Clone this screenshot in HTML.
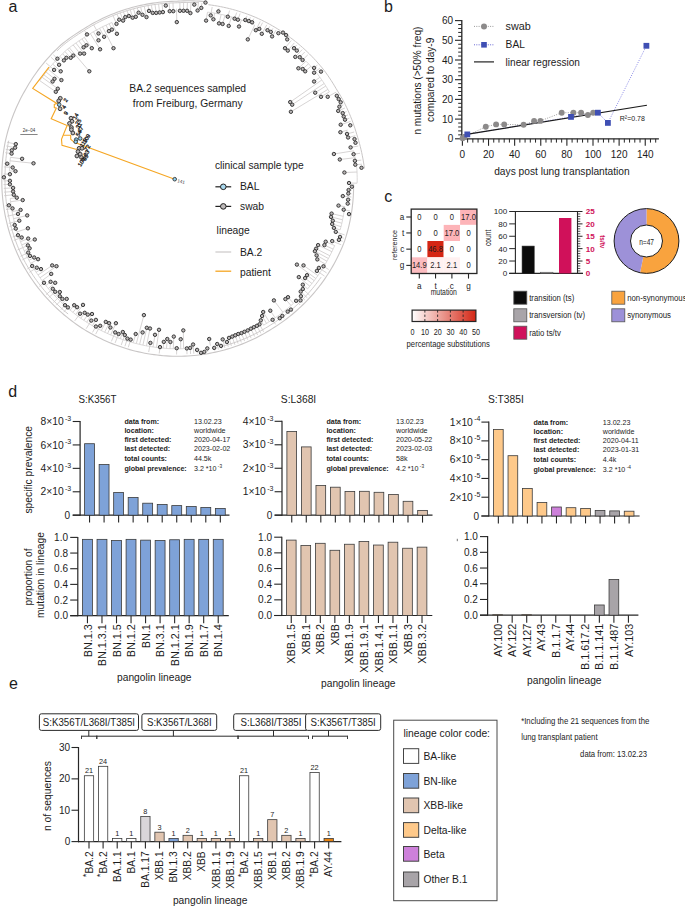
<!DOCTYPE html>
<html><head><meta charset="utf-8"><style>
html,body{margin:0;padding:0;background:#fff;}
svg{display:block;}
text{font-family:"Liberation Sans",sans-serif;}
</style></head><body>
<svg width="685" height="907" viewBox="0 0 685 907" fill="#1c1c1c">
<rect width="685" height="907" fill="#fff"/>
<text x="8.60" y="11.70" font-size="16">a</text>
<text x="384.10" y="11.60" font-size="16">b</text>
<text x="384.20" y="202.00" font-size="16">c</text>
<text x="8.20" y="397.20" font-size="16">d</text>
<text x="8.90" y="689.00" font-size="16">e</text>
<path d="M353.60,184.30 L353.60,187.32 L353.55,190.34 L353.44,193.36 L353.28,196.38 L353.07,199.39 L352.81,202.41 L352.49,205.42 L352.12,208.43 L351.70,211.44 L351.22,214.44 L350.69,217.43 L350.11,220.42 L349.48,223.39 L348.80,226.36 L348.06,229.32 L347.27,232.26 L346.43,235.20 L345.54,238.12 L344.59,241.02 L343.50,243.88 L342.35,246.70 L341.15,249.51 L339.90,252.30 L338.60,255.07 L337.25,257.81 L335.86,260.53 L334.42,263.22 L332.93,265.89 L331.39,268.53 L329.81,271.15 L328.19,273.74 L326.52,276.30 L324.80,278.83 L323.05,281.33 L321.24,283.80 L319.40,286.23 L317.51,288.64 L315.58,291.01 L313.62,293.35 L311.61,295.65 L309.56,297.92 L307.47,300.15 L305.34,302.35 L303.17,304.51 L300.97,306.63 L298.73,308.71 L296.46,310.76 L294.14,312.76 L291.80,314.72 L289.42,316.64 L287.01,318.52 L284.56,320.36 L282.09,322.16 L279.58,323.91 L277.04,325.62 L274.47,327.28 L271.88,328.90 L269.28,330.52 L266.65,332.09 L264.00,333.62 L261.32,335.09 L258.61,336.53 L255.87,337.91 L253.11,339.25 L250.33,340.54 L247.53,341.79 L244.70,342.98 L241.85,344.12 L238.98,345.22 L236.09,346.27 L233.18,347.26 L230.26,348.21 L227.32,349.10 L224.36,349.94 L221.38,350.74 L218.40,351.48 L215.40,352.16 L212.38,352.80 L209.36,353.38 L206.32,353.92 L203.28,354.39 L200.22,354.82 L197.16,355.19 L194.09,355.51 L191.01,355.78 L187.93,355.99 L184.85,356.15 L181.76,356.25 L178.67,356.30 L175.58,356.29 L172.49,356.22 L169.40,356.09 L166.31,355.91 L163.22,355.68 L160.14,355.40 L157.06,355.06 L153.99,354.67 L150.93,354.22 L147.87,353.72 L144.82,353.17 L141.78,352.56 L138.75,351.90 L135.73,351.19 L132.73,350.43 L129.73,349.61 L126.76,348.74 L123.79,347.82 L120.84,346.85 L117.91,345.83 L115.00,344.75 L112.10,343.63 L109.22,342.45 L106.37,341.22 L103.53,339.95 L100.72,338.62 L97.93,337.25 L95.16,335.82 L92.42,334.35 L89.71,332.83 L87.02,331.25 L84.37,329.62 L81.75,327.94 L79.15,326.22 L76.59,324.45 L74.05,322.64 L71.55,320.78 L69.08,318.88 L66.64,316.94 L64.24,314.96 L61.87,312.93 L59.54,310.86 L57.24,308.75 L54.98,306.61 L52.76,304.42 L50.57,302.19 L48.43,299.93 L46.32,297.63 L44.25,295.29 L42.23,292.92 L40.24,290.51 L38.30,288.06 L36.40,285.59 L34.54,283.08 L32.73,280.53 L30.96,277.96 L29.24,275.36 L27.56,272.72 L25.93,270.06 L24.34,267.36 L22.80,264.64 L21.31,261.90 L19.86,259.13 L18.52,256.30 L17.23,253.46 L15.98,250.59 L14.79,247.70 L13.65,244.80 L12.56,241.87 L11.52,238.93 L10.53,235.97 L9.59,232.99 L8.71,230.00 L7.87,226.99 L7.09,223.97 L6.37,220.94 L5.69,217.89 L5.07,214.84 L4.51,211.77 L3.99,208.70 L3.53,205.62 L3.13,202.53 L2.78,199.44 L2.48,196.34 L2.23,193.23 L2.04,190.13 L1.91,187.02 L1.82,183.91 L1.80,180.80 L1.82,177.69 L1.86,174.58 L1.92,171.47 L2.03,168.36 L2.20,165.25 L2.42,162.15 L2.70,159.05 L3.03,155.95 L3.41,152.86 L3.85,149.78 L4.34,146.70 L4.88,143.63 L5.48,140.58 L6.18,137.54 L6.94,134.52 L7.76,131.51 L8.63,128.52 L9.55,125.54 L10.52,122.58 L11.54,119.64 L12.62,116.71 L13.74,113.81 L14.91,110.93 L16.14,108.06 L17.41,105.22 L18.73,102.40 L20.11,99.61 L21.52,96.84 L22.99,94.10 L24.51,91.38 L26.05,88.68 L27.61,85.98 L29.21,83.32 L30.87,80.68 L32.57,78.07 L34.31,75.50 L36.10,72.95 L37.94,70.43 L39.82,67.95 L41.74,65.49 L43.70,63.07 L45.71,60.69 L47.76,58.34 L49.85,56.02 L51.98,53.74 L54.15,51.50 L56.36,49.30 L58.61,47.13 L60.89,45.01 L63.27,42.99 L65.74,41.08 L68.24,39.21 L70.78,37.39 L73.34,35.62 L75.93,33.89 L78.54,32.21 L81.16,30.53 L83.76,28.85 L86.40,27.21 L89.06,25.62 L91.75,24.07 L94.47,22.57 L97.21,21.12 L99.98,19.72 L102.77,18.37 L105.58,17.06 L108.42,15.81 L111.27,14.60 L114.15,13.45 L117.04,12.34 L119.96,11.29 L122.89,10.28 L125.83,9.33 L128.80,8.43 L131.77,7.58 L134.77,6.78 L137.77,6.04 L140.79,5.35 L143.82,4.71 L146.85,4.12 L149.90,3.59 L152.96,3.11 L156.02,2.68 L159.09,2.31 L162.16,1.99 L165.24,1.72 L168.33,1.51 L171.41,1.35 L174.50,1.24 L177.59,1.16 L180.68,0.99 L183.78,0.88 L186.88,0.82 L189.98,0.81 L193.08,0.86 L196.19,0.96 L199.29,1.12 L202.40,1.33 L205.50,1.60" fill="none" stroke="#c9c6c6" stroke-width="1.1"/>
<path d="M68.14,314.04 L65.79,312.08 L63.47,310.08 L61.19,308.04 L58.94,305.96 L56.73,303.84 L54.55,301.69 L52.42,299.49 L50.32,297.26 L48.26,295.00 L46.24,292.69 L44.26,290.35 L42.32,287.98 L40.42,285.57 L38.56,283.13 L36.75,280.66 L34.98,278.16 L33.25,275.63 L31.56,273.06 L29.93,270.47 L28.33,267.85 L26.78,265.20 L25.28,262.52 L23.83,259.82 L22.43,257.09 L21.12,254.31 L19.86,251.51 L18.65,248.69 L17.49,245.85 L16.38,242.99 L15.32,240.11 L14.31,237.22 L13.35,234.31 L12.45,231.38 L11.59,228.44 L10.78,225.48 L10.03,222.51 L9.33,219.53 L8.68,216.54 L8.08,213.54 L7.54,210.53 L7.05,207.51 L6.61,204.48 L6.22,201.45 L5.89,198.41 L5.61,195.36 L5.38,192.32 L5.20,189.27 L5.08,186.21 L5.01,183.16 L5.00,180.11 L5.04,177.05 L5.07,174.00 L5.14,170.95 L5.26,167.89 L5.43,164.84 L5.66,161.80 L5.94,158.75 L6.28,155.71 L6.66,152.68 L7.10,149.65 L7.60,146.63 L8.14,143.62 L8.74,140.62" fill="none" stroke="#c9c6c6" stroke-width="0.9"/>
<path d="M57.05,50.86 L59.23,48.74 L61.45,46.66 L63.74,44.66 L66.14,42.79 L68.57,40.96 L71.03,39.17 L73.52,37.43 L76.03,35.73 L78.57,34.08 L81.13,32.47 L83.66,30.81 L86.22,29.20 L88.81,27.63 L91.42,26.10 L94.06,24.62 L96.72,23.19 L99.40,21.80 L102.11,20.46 L104.84,19.16 L107.59,17.92 L110.36,16.71 L113.15,15.56 L115.97,14.46 L118.79,13.40 L121.64,12.39 L124.50,11.44 L127.38,10.53 L130.27,9.67 L133.18,8.86 L136.10,8.10 L139.03,7.39 L141.97,6.73 L144.93,6.12 L147.89,5.56 L150.86,5.05 L153.84,4.60 L156.83,4.19 L159.82,3.84 L162.82,3.53 L165.82,3.28 L168.82,3.08 L171.83,2.93 L174.84,2.84 L177.85,2.74 L180.86,2.58 L183.88,2.47 L186.90,2.41 L189.92,2.41 L192.95,2.46 L195.97,2.55 L199.00,2.71" fill="none" stroke="#c9c6c6" stroke-width="0.9"/>
<path d="M321.10,277.15 L319.41,279.53 L317.68,281.89 L315.90,284.22 L314.09,286.51 L312.24,288.78 L310.35,291.01 L308.42,293.21 L306.46,295.38 L304.46,297.51 L302.42,299.61 L300.35,301.68 L298.24,303.71 L296.10,305.70 L293.92,307.66 L291.71,309.57 L289.47,311.46 L287.20,313.30 L284.89,315.10 L282.56,316.87 L280.20,318.59 L277.80,320.27 L275.38,321.92 L272.93,323.52 L270.45,325.08 L267.97,326.63 L265.46,328.15 L262.93,329.62 L260.37,331.05 L257.79,332.44 L255.19,333.79 L252.56,335.09 L249.90,336.34 L247.23,337.55 L244.53,338.72 L241.82,339.83 L239.08,340.91 L236.33,341.93 L233.55,342.91 L230.77,343.85 L227.96,344.73 L225.14,345.57 L222.30,346.36" fill="none" stroke="#c9c6c6" stroke-width="0.9"/>
<path d="M208.40,4.70 L211.44,5.10 L214.47,5.56 L217.50,6.07 L220.52,6.63 L223.53,7.25 L226.53,7.91 L229.53,8.63 L232.51,9.41 L235.48,10.23 L238.43,11.11 L241.37,12.04 L244.30,13.02 L247.21,14.05 L250.11,15.14 L252.98,16.27 L255.84,17.47 L258.66,18.74 L261.46,20.06 L264.24,21.43 L266.99,22.85 L269.72,24.32 L272.43,25.83 L275.11,27.40 L277.76,29.01 L280.38,30.66 L282.98,32.37 L285.55,34.11 L288.09,35.91 L290.60,37.75 L293.07,39.63 L295.52,41.55 L297.93,43.52 L300.30,45.53 L302.65,47.58 L304.96,49.68 L307.23,51.81 L309.46,53.99 L311.66,56.20 L313.82,58.45 L315.94,60.74 L318.03,63.07 L320.07,65.44 L322.07,67.84 L324.03,70.27 L325.90,72.78 L327.71,75.33 L329.47,77.91 L331.19,80.53 L332.86,83.17 L334.49,85.84 L336.06,88.54 L337.71,91.20 L339.35,93.86 L340.95,96.56 L342.51,99.29 L343.97,102.06 L345.38,104.87 L346.74,107.71 L348.05,110.57 L349.31,113.45 L350.52,116.36 L351.68,119.29 L352.79,122.24 L353.85,125.21 L354.86,128.20 L355.82,131.21 L356.72,134.24 L357.65,137.26 L358.57,140.30 L359.43,143.36 L360.24,146.43 L360.99,149.53 L361.70,152.64 L362.35,155.76 L362.94,158.90 L363.48,162.05 L363.97,165.22 L364.40,168.40" fill="none" stroke="#c9c6c6" stroke-width="1.0"/>
<path d="M87.0,34.4L84.5,30.5 M86.5,45.3L82.0,38.9 M83.6,47.3L78.9,40.9 M80.1,53.6L73.1,44.9 M84.1,53.6L75.9,43.0 M73.3,55.6L67.6,49.1 M70.7,57.8L64.9,51.5 M66.4,57.8L62.6,53.7 M63.9,60.4L59.9,56.3 M57.4,58.7L53.4,54.8 M59.1,64.8L51.1,57.3 M54.1,69.9L46.1,63.0 M60.7,71.3L52.7,64.1 M54.5,78.8L46.1,72.1 M52.6,81.5L43.9,74.9 M61.4,80.1L48.3,69.3 M57.8,88.7L42.2,77.3 M89.3,71.3L69.3,47.8 M165.8,5.6L165.6,3.5 M169.7,11.2L169.2,3.3 M173.3,11.2L173.0,3.1 M162.9,12.1L162.0,3.8 M159.6,12.5L158.6,4.2 M156.2,12.9L155.0,4.6 M152.7,12.9L151.4,5.2 M149.0,10.9L148.0,5.7 M146.5,17.1L144.3,6.5 M142.5,14.8L140.7,7.2 M138.6,12.7L137.4,8.0 M135.8,16.8L133.6,8.9 M132.6,17.7L130.3,9.9 M128.8,16.0L127.1,10.8 M125.3,17.1L123.5,12.0 M123.1,20.6L120.4,13.1 M119.2,19.7L117.1,14.2 M116.5,23.9L113.1,15.8 M111.9,29.6L109.2,23.7 M108.9,31.1L106.0,25.1 M116.9,33.8L111.9,22.5 M104.1,36.8L99.6,28.4 M98.5,33.5L93.7,25.0 M98.5,40.3L93.4,31.7 M91.8,48.2L84.4,37.4 M100.1,49.3L90.3,33.6 M113.5,48.2L102.5,26.8 M179.9,10.8L179.9,2.8 M183.5,10.8L183.6,2.7 M187.1,10.8L187.4,2.6 M190.4,13.1L191.0,2.6 M194.3,4.6L194.5,2.7 M197.6,10.5L198.4,2.9 M201.3,7.9L201.9,3.1 M205.5,2.6L206.1,-1.9 M176.8,22.1L176.5,8.7 M210.7,15.4L212.2,7.0 M213.4,19.3L214.7,13.2 M206.1,20.6L207.5,12.1 M218.4,11.4L219.1,8.2 M219.0,23.4L221.2,14.4 M222.6,24.0L225.0,15.2 M227.8,16.7L229.6,10.5 M228.7,25.9L231.5,16.9 M234.6,18.7L236.7,12.5 M237.9,19.7L240.1,13.5 M239.0,26.5L241.5,20.0 M245.3,20.0L247.0,15.9 M248.8,21.0L250.4,17.2 M252.1,22.3L253.8,18.6 M255.8,30.2L260.2,21.5 M247.8,39.4L254.7,25.2 M259.3,28.9L262.6,22.6 M261.8,33.8L266.8,24.8 M267.5,30.2L269.7,26.4 M270.8,31.9L273.0,28.3 M272.1,36.4L276.1,30.1 M278.4,33.2L279.2,32.0 M287.2,39.4L288.1,38.2 M285.0,48.2L291.2,40.5 M287.8,50.6L294.3,42.9 M294.0,48.2L296.8,44.9 M296.8,50.6L299.7,47.4 M295.3,56.9L302.2,49.6 M299.7,57.2L304.8,52.0 M302.6,60.0L307.8,54.9 M298.4,68.3L306.0,61.2 M302.7,69.0L308.5,63.8 M305.2,71.3L310.9,66.4 M314.1,67.9L317.4,65.1 M314.1,72.7L319.9,68.1 M321.0,71.6L322.1,70.8 M314.1,81.5L319.9,77.3 M315.2,92.7L325.8,86.0 M321.0,96.8L329.4,91.9 M327.7,96.8L336.2,92.1 M290.2,102.1L321.8,80.0 M292.2,104.7L324.2,83.5 M290.9,111.8L327.9,89.4 M336.8,95.8L338.0,95.1 M338.7,99.1L340.0,98.5 M340.7,102.3L341.8,101.8 M339.4,106.7L343.4,104.9 M338.2,110.9L344.9,108.0 M342.7,113.1L346.5,111.6 M343.7,116.5L348.0,114.9 M345.0,119.7L349.3,118.2 M340.7,124.7L350.6,121.4 M350.3,125.3L351.8,124.8 M340.4,132.2L347.6,130.1 M347.0,133.9L354.2,132.0 M348.1,137.5L355.3,135.7 M354.5,139.1L356.2,138.7 M355.5,142.8L357.3,142.4 M350.6,147.4L358.3,146.0 M333.9,154.0L353.6,150.8 M353.6,154.2L360.0,153.3 M339.8,159.5L355.1,157.7 M354.9,160.8L361.3,160.1 M355.3,164.7L362.0,164.2 M361.5,167.8L362.5,167.7 M344.4,172.5L357.1,172.0 M349.0,183.0L357.1,183.2 M348.6,190.0L351.8,190.2 M348.3,193.5L351.6,193.8 M342.8,196.1L351.4,197.0 M348.1,199.7L351.2,200.1 M347.7,203.6L350.8,204.1 M338.5,205.6L344.8,206.7 M343.7,209.7L350.0,210.9 M331.6,213.6L343.3,216.3 M331.0,216.9L342.6,219.8 M332.8,220.7L341.8,223.2 M332.2,224.0L341.0,226.6 M333.9,227.9L340.1,229.9 M335.8,231.9L344.6,234.9 M340.0,236.9L343.6,238.2 M338.9,239.9L342.6,241.3 M332.2,241.1L341.2,244.8 M325.7,241.7L334.7,245.6 M324.4,245.1L333.1,249.1 M318.1,245.1L331.9,251.7 M316.1,248.7L329.9,255.8 M314.9,251.2L328.4,258.5 M316.6,255.4L326.9,261.2 M317.3,259.4L325.3,264.1 M296.9,264.6L315.8,278.5 M303.5,265.4L317.9,275.6 M323.5,266.3L328.7,269.5 M318.9,267.9L326.6,272.9 M316.9,270.9L324.5,276.1 M298.8,277.1L309.8,286.2 M307.0,275.2L314.2,280.7 M305.1,278.1L312.0,283.6 M302.8,284.7L307.6,288.9 M302.8,289.0L309.6,295.2 M300.7,291.6L307.3,297.8 M300.9,296.2L305.0,300.2 M300.5,300.4L302.6,302.5 M296.1,300.8L300.1,305.0 M288.0,297.2L293.5,303.3 M285.4,299.1L291.0,305.5 M273.9,300.4L282.9,312.2 M290.9,309.6L292.6,311.7 M287.7,311.6L289.7,314.1 M270.3,310.7L275.2,317.8 M282.3,315.9L284.2,318.4 M279.7,318.2L281.3,320.5 M272.6,319.8L275.6,324.4 M263.2,312.0L269.2,321.7 M262.1,316.0L266.5,323.4 M260.8,320.3L263.6,325.2 M259.5,324.3L263.6,331.8 M256.9,325.8L260.8,333.3 M253.8,327.2L257.6,335.0 M250.9,328.7L254.6,336.5 M247.7,330.4L251.1,338.2 M244.4,331.8L247.7,339.7 M241.4,333.1L244.6,341.1 M238.2,334.0L241.3,342.4 M235.2,335.3L238.1,343.6 M232.2,336.6L234.9,344.8 M229.0,337.9L231.4,345.9 M226.9,342.0L228.3,346.9 M222.7,339.4L224.9,347.9 M221.0,345.9L221.7,348.8 M217.2,344.0L218.4,349.6 M214.2,347.9L214.7,350.5 M209.2,339.0L210.4,345.6 M207.3,348.4L207.8,351.8 M204.3,351.9L204.4,352.4 M197.1,349.9L197.4,353.3 M193.1,344.5L193.8,353.7 M190.2,347.9L190.6,354.0 M186.8,348.4L187.0,354.2 M183.3,330.4L183.6,348.7 M180.7,339.2L180.7,348.8 M92.0,314.0L86.7,322.2 M91.3,320.6L86.2,328.7 M95.9,319.9L92.4,325.7 M95.9,326.5L92.5,332.4 M100.2,325.8L95.7,334.1 M105.8,321.9L101.3,330.5 M109.1,323.2L104.7,332.2 M110.4,327.5L107.6,333.5 M115.9,323.2L110.7,334.9 M115.2,332.4L111.4,341.4 M118.6,334.0L115.1,342.9 M122.8,332.0L120.3,338.7 M124.8,335.0L121.2,345.1 M127.4,338.6L124.9,346.3 M130.7,339.6L128.3,347.3 M135.7,334.0L133.2,342.8 M143.9,315.1L136.3,343.6 M142.6,332.4L139.6,344.4 M146.8,327.8L142.9,345.1 M150.0,328.5L146.5,345.8 M155.0,334.8L153.0,347.0 M159.0,329.8L156.5,347.4 M150.4,342.9L148.7,352.0 M160.0,347.1L159.2,353.5 M163.8,341.9L163.2,348.2 M167.3,339.0L166.5,348.4 M170.4,342.0L170.0,348.6 M173.8,336.6L173.3,348.7 M176.7,348.2L176.6,354.5 M28.2,252.6L20.5,256.3 M30.0,255.9L22.3,259.9 M34.2,257.5L29.0,260.3 M38.1,259.2L30.7,263.4 M32.2,266.0L27.3,268.9 M36.8,267.7L29.4,272.3 M41.0,269.1L36.2,272.2 M52.2,265.4L38.0,275.0 M56.5,266.2L40.0,277.8 M51.2,273.9L42.1,280.6 M44.0,282.8L39.3,286.4 M50.6,281.8L45.9,285.5 M55.2,282.8L48.3,288.5 M52.8,288.8L46.1,294.6 M55.2,291.8L48.7,297.6 M59.8,292.0L55.3,296.3 M59.8,296.2L53.4,302.5 M62.4,298.9L56.2,305.2 M66.7,298.9L62.5,303.4 M65.0,305.2L60.9,309.7 M67.9,307.4L63.7,312.2 M74.2,305.2L70.1,310.1 M77.1,307.2L72.9,312.4 M83.0,304.9L75.6,314.5 M80.1,313.7L74.7,320.9 M84.7,312.8L80.8,318.2 M87.8,314.6L83.9,320.4 M7.2,163.7L4.1,163.4 M33.5,163.3L10.1,160.8 M12.7,167.5L3.9,166.9 M15.5,171.2L9.4,170.9 M9.9,174.2L3.7,174.0 M9.9,180.8L3.6,180.9 M9.9,184.3L3.6,184.5 M13.1,187.9L3.8,188.4 M13.1,191.5L4.0,192.2 M13.8,194.8L4.2,195.7 M16.8,197.7L10.2,198.5 M22.7,200.1L10.6,201.7 M8.9,205.3L5.4,205.8 M12.5,208.4L6.0,209.6 M20.6,209.9L12.1,211.6 M18.0,213.9L7.2,216.2 M27.2,215.4L13.5,218.7 M19.3,220.7L8.8,223.4 M14.7,225.0L9.6,226.4 M15.8,228.6L10.6,230.2 M27.9,228.3L17.1,231.8 M18.0,235.2L12.8,237.0 M21.7,237.5L13.9,240.4 M28.2,238.6L20.5,241.6 M34.8,239.5L21.8,244.9 M27.9,245.4L17.6,249.9 M29.6,248.3L24.2,250.8 M55.8,91.8L39.8,80.7 M15.8,144.1L7.0,142.2 M15.1,147.7L6.3,146.0 M11.8,150.3L5.7,149.3 M11.6,153.6L5.3,152.7 M22.1,158.8L10.4,157.3" fill="none" stroke="#c9c6c6" stroke-width="0.75"/>
<path d="M9.4,170.9 L9.5,168.2 L9.7,165.5 L9.9,162.8 L10.1,160.0 L10.4,157.3 M39.8,80.7 L41.5,78.3 L43.2,75.9 L45.0,73.5 L46.8,71.2 L48.6,68.9 L50.5,66.6 L52.4,64.4 L54.4,62.2 L56.4,60.0 L58.4,57.9 L60.5,55.8 L62.6,53.7 L64.7,51.7 L66.9,49.7 L69.2,47.9 L71.5,46.1 L73.9,44.4 L76.3,42.7 L78.7,41.0 L81.2,39.4 L83.7,37.8 L86.1,36.2 L88.6,34.7 L91.1,33.1 L93.6,31.6 L96.2,30.2 L98.7,28.8 L101.3,27.4 L103.9,26.1 L106.6,24.9 L109.2,23.6 L111.9,22.5 M207.5,12.1 L210.3,12.5 L213.2,12.9 L216.0,13.4 L218.8,13.9 L221.7,14.5 L224.5,15.1 L227.3,15.8 L230.1,16.5 L232.9,17.3 L235.7,18.1 L238.4,19.0 L241.2,19.9 L243.9,20.8 L246.6,21.8 L249.3,22.9 L252.0,24.0 L254.7,25.2 M306.0,61.2 L308.1,63.3 L310.1,65.5 L312.1,67.7 L314.1,69.9 L316.0,72.2 L317.8,74.5 L319.6,76.9 L321.4,79.4 L323.1,81.8 L324.7,84.3 L326.3,86.8 L327.9,89.4 L329.4,91.9 M353.6,150.8 L354.3,153.7 L354.9,156.6 L355.5,159.5 L356.0,162.5 L356.4,165.4 L356.8,168.3 L357.0,171.3 L357.1,174.3 L357.2,177.3 L357.2,180.2 L357.1,183.2 M344.8,206.7 L344.4,209.3 L344.0,211.9 L343.6,214.5 L343.1,217.1 L342.6,219.6 L342.1,222.2 L341.5,224.8 L340.8,227.4 L340.1,229.9 M334.7,245.6 L333.5,248.2 L332.3,250.8 L331.1,253.3 L329.8,255.9 L328.5,258.4 L327.1,260.9 L325.7,263.4 L324.3,265.8 L322.8,268.3 L321.3,270.7 L319.7,273.0 L318.1,275.4 L316.4,277.7 L314.7,280.0 L313.0,282.2 L311.2,284.5 L309.4,286.7 L307.6,288.9 M293.5,303.3 L291.4,305.2 L289.2,307.1 L287.1,308.9 L284.8,310.7 L282.6,312.5 L280.3,314.2 L278.0,315.9 L275.6,317.5 L273.3,319.1 L270.9,320.7 L268.5,322.2 L266.0,323.7 L263.6,325.2 M183.6,348.7 L180.7,348.8 L177.7,348.8 L174.8,348.8 L171.8,348.7 L168.9,348.6 L165.9,348.4 L163.0,348.1 L160.1,347.9 L157.1,347.5 L154.2,347.1 L151.3,346.7 L148.4,346.2 L145.5,345.7 L142.6,345.1 L139.7,344.4 L136.8,343.7 L133.9,343.0 L131.1,342.2 L128.2,341.4 L125.4,340.5 L122.6,339.5 L119.8,338.5 L117.0,337.5 L114.3,336.4 L111.5,335.3 L108.8,334.1 L106.1,332.9 L103.4,331.6 L100.8,330.3 L98.1,328.9 L95.5,327.5 L92.9,326.0 L90.4,324.5 L87.8,322.9 L85.3,321.3 L82.9,319.7 L80.4,318.0 L78.0,316.2 L75.6,314.5 L73.3,312.6 L71.0,310.8 L68.7,308.9 L66.4,306.9 L64.2,305.0 L62.0,302.9 L59.9,300.9 L57.7,298.8 L55.7,296.7 L53.6,294.5 L51.6,292.3 L49.6,290.1 L47.7,287.8 L45.8,285.5 L44.0,283.1 L42.2,280.8 L40.4,278.4 L38.7,275.9 L37.0,273.5 L35.3,271.0 L33.7,268.5 L32.2,265.9 L30.7,263.4 L29.2,260.8 L27.8,258.1 L26.4,255.5 L25.2,252.8 L23.9,250.1 L22.7,247.3 L21.6,244.6 L20.5,241.8 L19.5,239.0 L18.5,236.2 L17.6,233.3 L16.7,230.5 L15.8,227.6 L15.0,224.8 L14.3,221.9 L13.6,219.0 L13.0,216.1 L12.4,213.2 L11.9,210.2 L11.4,207.3 L10.9,204.4 L10.5,201.4 L10.2,198.5" fill="none" stroke="#cfcccc" stroke-width="0.75"/>
<polyline points="49,67.2 32.7,88.4 56.9,103.5 54.3,104.5 54.3,107.6 56.3,108.1 51.2,118.8 67.1,125.5 61.5,139.3 62.0,145.4 76.8,149.5" fill="none" stroke="#f5a623" stroke-width="1.1"/>
<polyline points="63.2,135.2 70.7,135.2 70.7,139.3 73.2,141.3 74.2,142.3 174.7,179.2" fill="none" stroke="#f5a623" stroke-width="1.1"/>
<polyline points="67.1,125.5 70.1,126.5 70.7,128.5 71.7,129" fill="none" stroke="#f5a623" stroke-width="0.9"/>
<circle cx="87.0" cy="34.4" r="1.7" fill="#bab6b6" stroke="#333" stroke-width="0.95"/>
<circle cx="86.5" cy="45.3" r="1.7" fill="#bab6b6" stroke="#333" stroke-width="0.95"/>
<circle cx="83.6" cy="47.3" r="1.7" fill="#bab6b6" stroke="#333" stroke-width="0.95"/>
<circle cx="80.1" cy="53.6" r="1.7" fill="#bab6b6" stroke="#333" stroke-width="0.95"/>
<circle cx="84.1" cy="53.6" r="1.7" fill="#bab6b6" stroke="#333" stroke-width="0.95"/>
<circle cx="73.3" cy="55.6" r="1.7" fill="#bab6b6" stroke="#333" stroke-width="0.95"/>
<circle cx="70.7" cy="57.8" r="1.7" fill="#bab6b6" stroke="#333" stroke-width="0.95"/>
<circle cx="66.4" cy="57.8" r="1.7" fill="#bab6b6" stroke="#333" stroke-width="0.95"/>
<circle cx="63.9" cy="60.4" r="1.7" fill="#bab6b6" stroke="#333" stroke-width="0.95"/>
<circle cx="57.4" cy="58.7" r="1.7" fill="#bab6b6" stroke="#333" stroke-width="0.95"/>
<circle cx="59.1" cy="64.8" r="1.7" fill="#bab6b6" stroke="#333" stroke-width="0.95"/>
<circle cx="54.1" cy="69.9" r="1.7" fill="#bab6b6" stroke="#333" stroke-width="0.95"/>
<circle cx="60.7" cy="71.3" r="1.7" fill="#bab6b6" stroke="#333" stroke-width="0.95"/>
<circle cx="54.5" cy="78.8" r="1.7" fill="#bab6b6" stroke="#333" stroke-width="0.95"/>
<circle cx="52.6" cy="81.5" r="1.7" fill="#bab6b6" stroke="#333" stroke-width="0.95"/>
<circle cx="61.4" cy="80.1" r="1.7" fill="#bab6b6" stroke="#333" stroke-width="0.95"/>
<circle cx="57.8" cy="88.7" r="1.7" fill="#bab6b6" stroke="#333" stroke-width="0.95"/>
<circle cx="89.3" cy="71.3" r="1.7" fill="#bab6b6" stroke="#333" stroke-width="0.95"/>
<circle cx="165.8" cy="5.6" r="1.7" fill="#bab6b6" stroke="#333" stroke-width="0.95"/>
<circle cx="169.7" cy="11.2" r="1.7" fill="#bab6b6" stroke="#333" stroke-width="0.95"/>
<circle cx="173.3" cy="11.2" r="1.7" fill="#bab6b6" stroke="#333" stroke-width="0.95"/>
<circle cx="162.9" cy="12.1" r="1.7" fill="#bab6b6" stroke="#333" stroke-width="0.95"/>
<circle cx="159.6" cy="12.5" r="1.7" fill="#bab6b6" stroke="#333" stroke-width="0.95"/>
<circle cx="156.2" cy="12.9" r="1.7" fill="#bab6b6" stroke="#333" stroke-width="0.95"/>
<circle cx="152.7" cy="12.9" r="1.7" fill="#bab6b6" stroke="#333" stroke-width="0.95"/>
<circle cx="149.0" cy="10.9" r="1.7" fill="#bab6b6" stroke="#333" stroke-width="0.95"/>
<circle cx="146.5" cy="17.1" r="1.7" fill="#bab6b6" stroke="#333" stroke-width="0.95"/>
<circle cx="142.5" cy="14.8" r="1.7" fill="#bab6b6" stroke="#333" stroke-width="0.95"/>
<circle cx="138.6" cy="12.7" r="1.7" fill="#bab6b6" stroke="#333" stroke-width="0.95"/>
<circle cx="135.8" cy="16.8" r="1.7" fill="#bab6b6" stroke="#333" stroke-width="0.95"/>
<circle cx="132.6" cy="17.7" r="1.7" fill="#bab6b6" stroke="#333" stroke-width="0.95"/>
<circle cx="128.8" cy="16.0" r="1.7" fill="#bab6b6" stroke="#333" stroke-width="0.95"/>
<circle cx="125.3" cy="17.1" r="1.7" fill="#bab6b6" stroke="#333" stroke-width="0.95"/>
<circle cx="123.1" cy="20.6" r="1.7" fill="#bab6b6" stroke="#333" stroke-width="0.95"/>
<circle cx="119.2" cy="19.7" r="1.7" fill="#bab6b6" stroke="#333" stroke-width="0.95"/>
<circle cx="116.5" cy="23.9" r="1.7" fill="#bab6b6" stroke="#333" stroke-width="0.95"/>
<circle cx="111.9" cy="29.6" r="1.7" fill="#bab6b6" stroke="#333" stroke-width="0.95"/>
<circle cx="108.9" cy="31.1" r="1.7" fill="#bab6b6" stroke="#333" stroke-width="0.95"/>
<circle cx="116.9" cy="33.8" r="1.7" fill="#bab6b6" stroke="#333" stroke-width="0.95"/>
<circle cx="104.1" cy="36.8" r="1.7" fill="#bab6b6" stroke="#333" stroke-width="0.95"/>
<circle cx="98.5" cy="33.5" r="1.7" fill="#bab6b6" stroke="#333" stroke-width="0.95"/>
<circle cx="98.5" cy="40.3" r="1.7" fill="#bab6b6" stroke="#333" stroke-width="0.95"/>
<circle cx="91.8" cy="48.2" r="1.7" fill="#bab6b6" stroke="#333" stroke-width="0.95"/>
<circle cx="100.1" cy="49.3" r="1.7" fill="#bab6b6" stroke="#333" stroke-width="0.95"/>
<circle cx="113.5" cy="48.2" r="1.7" fill="#bab6b6" stroke="#333" stroke-width="0.95"/>
<circle cx="179.9" cy="10.8" r="1.7" fill="#bab6b6" stroke="#333" stroke-width="0.95"/>
<circle cx="183.5" cy="10.8" r="1.7" fill="#bab6b6" stroke="#333" stroke-width="0.95"/>
<circle cx="187.1" cy="10.8" r="1.7" fill="#bab6b6" stroke="#333" stroke-width="0.95"/>
<circle cx="190.4" cy="13.1" r="1.7" fill="#bab6b6" stroke="#333" stroke-width="0.95"/>
<circle cx="194.3" cy="4.6" r="1.7" fill="#bab6b6" stroke="#333" stroke-width="0.95"/>
<circle cx="197.6" cy="10.5" r="1.7" fill="#bab6b6" stroke="#333" stroke-width="0.95"/>
<circle cx="201.3" cy="7.9" r="1.7" fill="#bab6b6" stroke="#333" stroke-width="0.95"/>
<circle cx="205.5" cy="2.6" r="1.7" fill="#bab6b6" stroke="#333" stroke-width="0.95"/>
<circle cx="176.8" cy="22.1" r="1.7" fill="#bab6b6" stroke="#333" stroke-width="0.95"/>
<circle cx="210.7" cy="15.4" r="1.7" fill="#bab6b6" stroke="#333" stroke-width="0.95"/>
<circle cx="213.4" cy="19.3" r="1.7" fill="#bab6b6" stroke="#333" stroke-width="0.95"/>
<circle cx="206.1" cy="20.6" r="1.7" fill="#bab6b6" stroke="#333" stroke-width="0.95"/>
<circle cx="218.4" cy="11.4" r="1.7" fill="#bab6b6" stroke="#333" stroke-width="0.95"/>
<circle cx="219.0" cy="23.4" r="1.7" fill="#bab6b6" stroke="#333" stroke-width="0.95"/>
<circle cx="222.6" cy="24.0" r="1.7" fill="#bab6b6" stroke="#333" stroke-width="0.95"/>
<circle cx="227.8" cy="16.7" r="1.7" fill="#bab6b6" stroke="#333" stroke-width="0.95"/>
<circle cx="228.7" cy="25.9" r="1.7" fill="#bab6b6" stroke="#333" stroke-width="0.95"/>
<circle cx="234.6" cy="18.7" r="1.7" fill="#bab6b6" stroke="#333" stroke-width="0.95"/>
<circle cx="237.9" cy="19.7" r="1.7" fill="#bab6b6" stroke="#333" stroke-width="0.95"/>
<circle cx="239.0" cy="26.5" r="1.7" fill="#bab6b6" stroke="#333" stroke-width="0.95"/>
<circle cx="245.3" cy="20.0" r="1.7" fill="#bab6b6" stroke="#333" stroke-width="0.95"/>
<circle cx="248.8" cy="21.0" r="1.7" fill="#bab6b6" stroke="#333" stroke-width="0.95"/>
<circle cx="252.1" cy="22.3" r="1.7" fill="#bab6b6" stroke="#333" stroke-width="0.95"/>
<circle cx="255.8" cy="30.2" r="1.7" fill="#bab6b6" stroke="#333" stroke-width="0.95"/>
<circle cx="247.8" cy="39.4" r="1.7" fill="#bab6b6" stroke="#333" stroke-width="0.95"/>
<circle cx="259.3" cy="28.9" r="1.7" fill="#bab6b6" stroke="#333" stroke-width="0.95"/>
<circle cx="261.8" cy="33.8" r="1.7" fill="#bab6b6" stroke="#333" stroke-width="0.95"/>
<circle cx="267.5" cy="30.2" r="1.7" fill="#bab6b6" stroke="#333" stroke-width="0.95"/>
<circle cx="270.8" cy="31.9" r="1.7" fill="#bab6b6" stroke="#333" stroke-width="0.95"/>
<circle cx="272.1" cy="36.4" r="1.7" fill="#bab6b6" stroke="#333" stroke-width="0.95"/>
<circle cx="278.4" cy="33.2" r="1.7" fill="#bab6b6" stroke="#333" stroke-width="0.95"/>
<circle cx="283.0" cy="32.6" r="1.7" fill="#bab6b6" stroke="#333" stroke-width="0.95"/>
<circle cx="286.1" cy="35.1" r="1.7" fill="#bab6b6" stroke="#333" stroke-width="0.95"/>
<circle cx="287.2" cy="39.4" r="1.7" fill="#bab6b6" stroke="#333" stroke-width="0.95"/>
<circle cx="285.0" cy="48.2" r="1.7" fill="#bab6b6" stroke="#333" stroke-width="0.95"/>
<circle cx="287.8" cy="50.6" r="1.7" fill="#bab6b6" stroke="#333" stroke-width="0.95"/>
<circle cx="294.0" cy="48.2" r="1.7" fill="#bab6b6" stroke="#333" stroke-width="0.95"/>
<circle cx="296.8" cy="50.6" r="1.7" fill="#bab6b6" stroke="#333" stroke-width="0.95"/>
<circle cx="295.3" cy="56.9" r="1.7" fill="#bab6b6" stroke="#333" stroke-width="0.95"/>
<circle cx="299.7" cy="57.2" r="1.7" fill="#bab6b6" stroke="#333" stroke-width="0.95"/>
<circle cx="302.6" cy="60.0" r="1.7" fill="#bab6b6" stroke="#333" stroke-width="0.95"/>
<circle cx="298.4" cy="68.3" r="1.7" fill="#bab6b6" stroke="#333" stroke-width="0.95"/>
<circle cx="302.7" cy="69.0" r="1.7" fill="#bab6b6" stroke="#333" stroke-width="0.95"/>
<circle cx="305.2" cy="71.3" r="1.7" fill="#bab6b6" stroke="#333" stroke-width="0.95"/>
<circle cx="314.1" cy="67.9" r="1.7" fill="#bab6b6" stroke="#333" stroke-width="0.95"/>
<circle cx="314.1" cy="72.7" r="1.7" fill="#bab6b6" stroke="#333" stroke-width="0.95"/>
<circle cx="321.0" cy="71.6" r="1.7" fill="#bab6b6" stroke="#333" stroke-width="0.95"/>
<circle cx="314.1" cy="81.5" r="1.7" fill="#bab6b6" stroke="#333" stroke-width="0.95"/>
<circle cx="315.2" cy="92.7" r="1.7" fill="#bab6b6" stroke="#333" stroke-width="0.95"/>
<circle cx="321.0" cy="96.8" r="1.7" fill="#bab6b6" stroke="#333" stroke-width="0.95"/>
<circle cx="327.7" cy="96.8" r="1.7" fill="#bab6b6" stroke="#333" stroke-width="0.95"/>
<circle cx="290.2" cy="102.1" r="1.7" fill="#bab6b6" stroke="#333" stroke-width="0.95"/>
<circle cx="292.2" cy="104.7" r="1.7" fill="#bab6b6" stroke="#333" stroke-width="0.95"/>
<circle cx="290.9" cy="111.8" r="1.7" fill="#bab6b6" stroke="#333" stroke-width="0.95"/>
<circle cx="336.8" cy="95.8" r="1.7" fill="#bab6b6" stroke="#333" stroke-width="0.95"/>
<circle cx="338.7" cy="99.1" r="1.7" fill="#bab6b6" stroke="#333" stroke-width="0.95"/>
<circle cx="340.7" cy="102.3" r="1.7" fill="#bab6b6" stroke="#333" stroke-width="0.95"/>
<circle cx="339.4" cy="106.7" r="1.7" fill="#bab6b6" stroke="#333" stroke-width="0.95"/>
<circle cx="338.2" cy="110.9" r="1.7" fill="#bab6b6" stroke="#333" stroke-width="0.95"/>
<circle cx="342.7" cy="113.1" r="1.7" fill="#bab6b6" stroke="#333" stroke-width="0.95"/>
<circle cx="343.7" cy="116.5" r="1.7" fill="#bab6b6" stroke="#333" stroke-width="0.95"/>
<circle cx="345.0" cy="119.7" r="1.7" fill="#bab6b6" stroke="#333" stroke-width="0.95"/>
<circle cx="340.7" cy="124.7" r="1.7" fill="#bab6b6" stroke="#333" stroke-width="0.95"/>
<circle cx="350.3" cy="125.3" r="1.7" fill="#bab6b6" stroke="#333" stroke-width="0.95"/>
<circle cx="340.4" cy="132.2" r="1.7" fill="#bab6b6" stroke="#333" stroke-width="0.95"/>
<circle cx="347.0" cy="133.9" r="1.7" fill="#bab6b6" stroke="#333" stroke-width="0.95"/>
<circle cx="348.1" cy="137.5" r="1.7" fill="#bab6b6" stroke="#333" stroke-width="0.95"/>
<circle cx="354.5" cy="139.1" r="1.7" fill="#bab6b6" stroke="#333" stroke-width="0.95"/>
<circle cx="355.5" cy="142.8" r="1.7" fill="#bab6b6" stroke="#333" stroke-width="0.95"/>
<circle cx="350.6" cy="147.4" r="1.7" fill="#bab6b6" stroke="#333" stroke-width="0.95"/>
<circle cx="333.9" cy="154.0" r="1.7" fill="#bab6b6" stroke="#333" stroke-width="0.95"/>
<circle cx="353.6" cy="154.2" r="1.7" fill="#bab6b6" stroke="#333" stroke-width="0.95"/>
<circle cx="339.8" cy="159.5" r="1.7" fill="#bab6b6" stroke="#333" stroke-width="0.95"/>
<circle cx="354.9" cy="160.8" r="1.7" fill="#bab6b6" stroke="#333" stroke-width="0.95"/>
<circle cx="355.3" cy="164.7" r="1.7" fill="#bab6b6" stroke="#333" stroke-width="0.95"/>
<circle cx="361.5" cy="167.8" r="1.7" fill="#bab6b6" stroke="#333" stroke-width="0.95"/>
<circle cx="344.4" cy="172.5" r="1.7" fill="#bab6b6" stroke="#333" stroke-width="0.95"/>
<circle cx="349.0" cy="183.0" r="1.7" fill="#bab6b6" stroke="#333" stroke-width="0.95"/>
<circle cx="351.9" cy="186.7" r="1.7" fill="#bab6b6" stroke="#333" stroke-width="0.95"/>
<circle cx="348.6" cy="190.0" r="1.7" fill="#bab6b6" stroke="#333" stroke-width="0.95"/>
<circle cx="348.3" cy="193.5" r="1.7" fill="#bab6b6" stroke="#333" stroke-width="0.95"/>
<circle cx="342.8" cy="196.1" r="1.7" fill="#bab6b6" stroke="#333" stroke-width="0.95"/>
<circle cx="348.1" cy="199.7" r="1.7" fill="#bab6b6" stroke="#333" stroke-width="0.95"/>
<circle cx="347.7" cy="203.6" r="1.7" fill="#bab6b6" stroke="#333" stroke-width="0.95"/>
<circle cx="338.5" cy="205.6" r="1.7" fill="#bab6b6" stroke="#333" stroke-width="0.95"/>
<circle cx="343.7" cy="209.7" r="1.7" fill="#bab6b6" stroke="#333" stroke-width="0.95"/>
<circle cx="349.0" cy="214.1" r="1.7" fill="#bab6b6" stroke="#333" stroke-width="0.95"/>
<circle cx="331.6" cy="213.6" r="1.7" fill="#bab6b6" stroke="#333" stroke-width="0.95"/>
<circle cx="331.0" cy="216.9" r="1.7" fill="#bab6b6" stroke="#333" stroke-width="0.95"/>
<circle cx="332.8" cy="220.7" r="1.7" fill="#bab6b6" stroke="#333" stroke-width="0.95"/>
<circle cx="332.2" cy="224.0" r="1.7" fill="#bab6b6" stroke="#333" stroke-width="0.95"/>
<circle cx="333.9" cy="227.9" r="1.7" fill="#bab6b6" stroke="#333" stroke-width="0.95"/>
<circle cx="335.8" cy="231.9" r="1.7" fill="#bab6b6" stroke="#333" stroke-width="0.95"/>
<circle cx="340.0" cy="236.9" r="1.7" fill="#bab6b6" stroke="#333" stroke-width="0.95"/>
<circle cx="338.9" cy="239.9" r="1.7" fill="#bab6b6" stroke="#333" stroke-width="0.95"/>
<circle cx="332.2" cy="241.1" r="1.7" fill="#bab6b6" stroke="#333" stroke-width="0.95"/>
<circle cx="325.7" cy="241.7" r="1.7" fill="#bab6b6" stroke="#333" stroke-width="0.95"/>
<circle cx="324.4" cy="245.1" r="1.7" fill="#bab6b6" stroke="#333" stroke-width="0.95"/>
<circle cx="318.1" cy="245.1" r="1.7" fill="#bab6b6" stroke="#333" stroke-width="0.95"/>
<circle cx="316.1" cy="248.7" r="1.7" fill="#bab6b6" stroke="#333" stroke-width="0.95"/>
<circle cx="314.9" cy="251.2" r="1.7" fill="#bab6b6" stroke="#333" stroke-width="0.95"/>
<circle cx="316.6" cy="255.4" r="1.7" fill="#bab6b6" stroke="#333" stroke-width="0.95"/>
<circle cx="317.3" cy="259.4" r="1.7" fill="#bab6b6" stroke="#333" stroke-width="0.95"/>
<circle cx="296.9" cy="264.6" r="1.7" fill="#bab6b6" stroke="#333" stroke-width="0.95"/>
<circle cx="303.5" cy="265.4" r="1.7" fill="#bab6b6" stroke="#333" stroke-width="0.95"/>
<circle cx="323.5" cy="266.3" r="1.7" fill="#bab6b6" stroke="#333" stroke-width="0.95"/>
<circle cx="318.9" cy="267.9" r="1.7" fill="#bab6b6" stroke="#333" stroke-width="0.95"/>
<circle cx="316.9" cy="270.9" r="1.7" fill="#bab6b6" stroke="#333" stroke-width="0.95"/>
<circle cx="298.8" cy="277.1" r="1.7" fill="#bab6b6" stroke="#333" stroke-width="0.95"/>
<circle cx="307.0" cy="275.2" r="1.7" fill="#bab6b6" stroke="#333" stroke-width="0.95"/>
<circle cx="305.1" cy="278.1" r="1.7" fill="#bab6b6" stroke="#333" stroke-width="0.95"/>
<circle cx="302.8" cy="284.7" r="1.7" fill="#bab6b6" stroke="#333" stroke-width="0.95"/>
<circle cx="302.8" cy="289.0" r="1.7" fill="#bab6b6" stroke="#333" stroke-width="0.95"/>
<circle cx="300.7" cy="291.6" r="1.7" fill="#bab6b6" stroke="#333" stroke-width="0.95"/>
<circle cx="300.9" cy="296.2" r="1.7" fill="#bab6b6" stroke="#333" stroke-width="0.95"/>
<circle cx="300.5" cy="300.4" r="1.7" fill="#bab6b6" stroke="#333" stroke-width="0.95"/>
<circle cx="296.1" cy="300.8" r="1.7" fill="#bab6b6" stroke="#333" stroke-width="0.95"/>
<circle cx="288.0" cy="297.2" r="1.7" fill="#bab6b6" stroke="#333" stroke-width="0.95"/>
<circle cx="285.4" cy="299.1" r="1.7" fill="#bab6b6" stroke="#333" stroke-width="0.95"/>
<circle cx="273.9" cy="300.4" r="1.7" fill="#bab6b6" stroke="#333" stroke-width="0.95"/>
<circle cx="290.9" cy="309.6" r="1.7" fill="#bab6b6" stroke="#333" stroke-width="0.95"/>
<circle cx="287.7" cy="311.6" r="1.7" fill="#bab6b6" stroke="#333" stroke-width="0.95"/>
<circle cx="270.3" cy="310.7" r="1.7" fill="#bab6b6" stroke="#333" stroke-width="0.95"/>
<circle cx="282.3" cy="315.9" r="1.7" fill="#bab6b6" stroke="#333" stroke-width="0.95"/>
<circle cx="279.7" cy="318.2" r="1.7" fill="#bab6b6" stroke="#333" stroke-width="0.95"/>
<circle cx="272.6" cy="319.8" r="1.7" fill="#bab6b6" stroke="#333" stroke-width="0.95"/>
<circle cx="263.2" cy="312.0" r="1.7" fill="#bab6b6" stroke="#333" stroke-width="0.95"/>
<circle cx="262.1" cy="316.0" r="1.7" fill="#bab6b6" stroke="#333" stroke-width="0.95"/>
<circle cx="260.8" cy="320.3" r="1.7" fill="#bab6b6" stroke="#333" stroke-width="0.95"/>
<circle cx="259.5" cy="324.3" r="1.7" fill="#bab6b6" stroke="#333" stroke-width="0.95"/>
<circle cx="256.9" cy="325.8" r="1.7" fill="#bab6b6" stroke="#333" stroke-width="0.95"/>
<circle cx="253.8" cy="327.2" r="1.7" fill="#bab6b6" stroke="#333" stroke-width="0.95"/>
<circle cx="250.9" cy="328.7" r="1.7" fill="#bab6b6" stroke="#333" stroke-width="0.95"/>
<circle cx="247.7" cy="330.4" r="1.7" fill="#bab6b6" stroke="#333" stroke-width="0.95"/>
<circle cx="244.4" cy="331.8" r="1.7" fill="#bab6b6" stroke="#333" stroke-width="0.95"/>
<circle cx="241.4" cy="333.1" r="1.7" fill="#bab6b6" stroke="#333" stroke-width="0.95"/>
<circle cx="238.2" cy="334.0" r="1.7" fill="#bab6b6" stroke="#333" stroke-width="0.95"/>
<circle cx="235.2" cy="335.3" r="1.7" fill="#bab6b6" stroke="#333" stroke-width="0.95"/>
<circle cx="232.2" cy="336.6" r="1.7" fill="#bab6b6" stroke="#333" stroke-width="0.95"/>
<circle cx="229.0" cy="337.9" r="1.7" fill="#bab6b6" stroke="#333" stroke-width="0.95"/>
<circle cx="226.9" cy="342.0" r="1.7" fill="#bab6b6" stroke="#333" stroke-width="0.95"/>
<circle cx="222.7" cy="339.4" r="1.7" fill="#bab6b6" stroke="#333" stroke-width="0.95"/>
<circle cx="221.0" cy="345.9" r="1.7" fill="#bab6b6" stroke="#333" stroke-width="0.95"/>
<circle cx="217.2" cy="344.0" r="1.7" fill="#bab6b6" stroke="#333" stroke-width="0.95"/>
<circle cx="214.2" cy="347.9" r="1.7" fill="#bab6b6" stroke="#333" stroke-width="0.95"/>
<circle cx="209.2" cy="339.0" r="1.7" fill="#bab6b6" stroke="#333" stroke-width="0.95"/>
<circle cx="207.3" cy="348.4" r="1.7" fill="#bab6b6" stroke="#333" stroke-width="0.95"/>
<circle cx="204.3" cy="351.9" r="1.7" fill="#bab6b6" stroke="#333" stroke-width="0.95"/>
<circle cx="201.0" cy="352.8" r="1.7" fill="#bab6b6" stroke="#333" stroke-width="0.95"/>
<circle cx="197.1" cy="349.9" r="1.7" fill="#bab6b6" stroke="#333" stroke-width="0.95"/>
<circle cx="193.1" cy="344.5" r="1.7" fill="#bab6b6" stroke="#333" stroke-width="0.95"/>
<circle cx="190.2" cy="347.9" r="1.7" fill="#bab6b6" stroke="#333" stroke-width="0.95"/>
<circle cx="186.8" cy="348.4" r="1.7" fill="#bab6b6" stroke="#333" stroke-width="0.95"/>
<circle cx="183.3" cy="330.4" r="1.7" fill="#bab6b6" stroke="#333" stroke-width="0.95"/>
<circle cx="180.7" cy="339.2" r="1.7" fill="#bab6b6" stroke="#333" stroke-width="0.95"/>
<circle cx="92.0" cy="314.0" r="1.7" fill="#bab6b6" stroke="#333" stroke-width="0.95"/>
<circle cx="91.3" cy="320.6" r="1.7" fill="#bab6b6" stroke="#333" stroke-width="0.95"/>
<circle cx="95.9" cy="319.9" r="1.7" fill="#bab6b6" stroke="#333" stroke-width="0.95"/>
<circle cx="95.9" cy="326.5" r="1.7" fill="#bab6b6" stroke="#333" stroke-width="0.95"/>
<circle cx="100.2" cy="325.8" r="1.7" fill="#bab6b6" stroke="#333" stroke-width="0.95"/>
<circle cx="105.8" cy="321.9" r="1.7" fill="#bab6b6" stroke="#333" stroke-width="0.95"/>
<circle cx="109.1" cy="323.2" r="1.7" fill="#bab6b6" stroke="#333" stroke-width="0.95"/>
<circle cx="110.4" cy="327.5" r="1.7" fill="#bab6b6" stroke="#333" stroke-width="0.95"/>
<circle cx="115.9" cy="323.2" r="1.7" fill="#bab6b6" stroke="#333" stroke-width="0.95"/>
<circle cx="115.2" cy="332.4" r="1.7" fill="#bab6b6" stroke="#333" stroke-width="0.95"/>
<circle cx="118.6" cy="334.0" r="1.7" fill="#bab6b6" stroke="#333" stroke-width="0.95"/>
<circle cx="122.8" cy="332.0" r="1.7" fill="#bab6b6" stroke="#333" stroke-width="0.95"/>
<circle cx="124.8" cy="335.0" r="1.7" fill="#bab6b6" stroke="#333" stroke-width="0.95"/>
<circle cx="127.4" cy="338.6" r="1.7" fill="#bab6b6" stroke="#333" stroke-width="0.95"/>
<circle cx="130.7" cy="339.6" r="1.7" fill="#bab6b6" stroke="#333" stroke-width="0.95"/>
<circle cx="135.7" cy="334.0" r="1.7" fill="#bab6b6" stroke="#333" stroke-width="0.95"/>
<circle cx="143.9" cy="315.1" r="1.7" fill="#bab6b6" stroke="#333" stroke-width="0.95"/>
<circle cx="142.6" cy="332.4" r="1.7" fill="#bab6b6" stroke="#333" stroke-width="0.95"/>
<circle cx="146.8" cy="327.8" r="1.7" fill="#bab6b6" stroke="#333" stroke-width="0.95"/>
<circle cx="150.0" cy="328.5" r="1.7" fill="#bab6b6" stroke="#333" stroke-width="0.95"/>
<circle cx="155.0" cy="334.8" r="1.7" fill="#bab6b6" stroke="#333" stroke-width="0.95"/>
<circle cx="159.0" cy="329.8" r="1.7" fill="#bab6b6" stroke="#333" stroke-width="0.95"/>
<circle cx="150.4" cy="342.9" r="1.7" fill="#bab6b6" stroke="#333" stroke-width="0.95"/>
<circle cx="160.0" cy="347.1" r="1.7" fill="#bab6b6" stroke="#333" stroke-width="0.95"/>
<circle cx="163.8" cy="341.9" r="1.7" fill="#bab6b6" stroke="#333" stroke-width="0.95"/>
<circle cx="167.3" cy="339.0" r="1.7" fill="#bab6b6" stroke="#333" stroke-width="0.95"/>
<circle cx="170.4" cy="342.0" r="1.7" fill="#bab6b6" stroke="#333" stroke-width="0.95"/>
<circle cx="173.8" cy="336.6" r="1.7" fill="#bab6b6" stroke="#333" stroke-width="0.95"/>
<circle cx="176.7" cy="348.2" r="1.7" fill="#bab6b6" stroke="#333" stroke-width="0.95"/>
<circle cx="28.2" cy="252.6" r="1.7" fill="#bab6b6" stroke="#333" stroke-width="0.95"/>
<circle cx="30.0" cy="255.9" r="1.7" fill="#bab6b6" stroke="#333" stroke-width="0.95"/>
<circle cx="34.2" cy="257.5" r="1.7" fill="#bab6b6" stroke="#333" stroke-width="0.95"/>
<circle cx="38.1" cy="259.2" r="1.7" fill="#bab6b6" stroke="#333" stroke-width="0.95"/>
<circle cx="32.2" cy="266.0" r="1.7" fill="#bab6b6" stroke="#333" stroke-width="0.95"/>
<circle cx="36.8" cy="267.7" r="1.7" fill="#bab6b6" stroke="#333" stroke-width="0.95"/>
<circle cx="41.0" cy="269.1" r="1.7" fill="#bab6b6" stroke="#333" stroke-width="0.95"/>
<circle cx="52.2" cy="265.4" r="1.7" fill="#bab6b6" stroke="#333" stroke-width="0.95"/>
<circle cx="56.5" cy="266.2" r="1.7" fill="#bab6b6" stroke="#333" stroke-width="0.95"/>
<circle cx="51.2" cy="273.9" r="1.7" fill="#bab6b6" stroke="#333" stroke-width="0.95"/>
<circle cx="44.0" cy="282.8" r="1.7" fill="#bab6b6" stroke="#333" stroke-width="0.95"/>
<circle cx="50.6" cy="281.8" r="1.7" fill="#bab6b6" stroke="#333" stroke-width="0.95"/>
<circle cx="55.2" cy="282.8" r="1.7" fill="#bab6b6" stroke="#333" stroke-width="0.95"/>
<circle cx="52.8" cy="288.8" r="1.7" fill="#bab6b6" stroke="#333" stroke-width="0.95"/>
<circle cx="55.2" cy="291.8" r="1.7" fill="#bab6b6" stroke="#333" stroke-width="0.95"/>
<circle cx="59.8" cy="292.0" r="1.7" fill="#bab6b6" stroke="#333" stroke-width="0.95"/>
<circle cx="59.8" cy="296.2" r="1.7" fill="#bab6b6" stroke="#333" stroke-width="0.95"/>
<circle cx="62.4" cy="298.9" r="1.7" fill="#bab6b6" stroke="#333" stroke-width="0.95"/>
<circle cx="66.7" cy="298.9" r="1.7" fill="#bab6b6" stroke="#333" stroke-width="0.95"/>
<circle cx="65.0" cy="305.2" r="1.7" fill="#bab6b6" stroke="#333" stroke-width="0.95"/>
<circle cx="67.9" cy="307.4" r="1.7" fill="#bab6b6" stroke="#333" stroke-width="0.95"/>
<circle cx="74.2" cy="305.2" r="1.7" fill="#bab6b6" stroke="#333" stroke-width="0.95"/>
<circle cx="77.1" cy="307.2" r="1.7" fill="#bab6b6" stroke="#333" stroke-width="0.95"/>
<circle cx="83.0" cy="304.9" r="1.7" fill="#bab6b6" stroke="#333" stroke-width="0.95"/>
<circle cx="80.1" cy="313.7" r="1.7" fill="#bab6b6" stroke="#333" stroke-width="0.95"/>
<circle cx="84.7" cy="312.8" r="1.7" fill="#bab6b6" stroke="#333" stroke-width="0.95"/>
<circle cx="87.8" cy="314.6" r="1.7" fill="#bab6b6" stroke="#333" stroke-width="0.95"/>
<circle cx="7.2" cy="163.7" r="1.7" fill="#bab6b6" stroke="#333" stroke-width="0.95"/>
<circle cx="33.5" cy="163.3" r="1.7" fill="#bab6b6" stroke="#333" stroke-width="0.95"/>
<circle cx="12.7" cy="167.5" r="1.7" fill="#bab6b6" stroke="#333" stroke-width="0.95"/>
<circle cx="15.5" cy="171.2" r="1.7" fill="#bab6b6" stroke="#333" stroke-width="0.95"/>
<circle cx="9.9" cy="174.2" r="1.7" fill="#bab6b6" stroke="#333" stroke-width="0.95"/>
<circle cx="3.9" cy="177.3" r="1.7" fill="#bab6b6" stroke="#333" stroke-width="0.95"/>
<circle cx="9.9" cy="180.8" r="1.7" fill="#bab6b6" stroke="#333" stroke-width="0.95"/>
<circle cx="9.9" cy="184.3" r="1.7" fill="#bab6b6" stroke="#333" stroke-width="0.95"/>
<circle cx="13.1" cy="187.9" r="1.7" fill="#bab6b6" stroke="#333" stroke-width="0.95"/>
<circle cx="13.1" cy="191.5" r="1.7" fill="#bab6b6" stroke="#333" stroke-width="0.95"/>
<circle cx="13.8" cy="194.8" r="1.7" fill="#bab6b6" stroke="#333" stroke-width="0.95"/>
<circle cx="16.8" cy="197.7" r="1.7" fill="#bab6b6" stroke="#333" stroke-width="0.95"/>
<circle cx="22.7" cy="200.1" r="1.7" fill="#bab6b6" stroke="#333" stroke-width="0.95"/>
<circle cx="8.9" cy="205.3" r="1.7" fill="#bab6b6" stroke="#333" stroke-width="0.95"/>
<circle cx="12.5" cy="208.4" r="1.7" fill="#bab6b6" stroke="#333" stroke-width="0.95"/>
<circle cx="20.6" cy="209.9" r="1.7" fill="#bab6b6" stroke="#333" stroke-width="0.95"/>
<circle cx="18.0" cy="213.9" r="1.7" fill="#bab6b6" stroke="#333" stroke-width="0.95"/>
<circle cx="27.2" cy="215.4" r="1.7" fill="#bab6b6" stroke="#333" stroke-width="0.95"/>
<circle cx="19.3" cy="220.7" r="1.7" fill="#bab6b6" stroke="#333" stroke-width="0.95"/>
<circle cx="14.7" cy="225.0" r="1.7" fill="#bab6b6" stroke="#333" stroke-width="0.95"/>
<circle cx="15.8" cy="228.6" r="1.7" fill="#bab6b6" stroke="#333" stroke-width="0.95"/>
<circle cx="27.9" cy="228.3" r="1.7" fill="#bab6b6" stroke="#333" stroke-width="0.95"/>
<circle cx="18.0" cy="235.2" r="1.7" fill="#bab6b6" stroke="#333" stroke-width="0.95"/>
<circle cx="21.7" cy="237.5" r="1.7" fill="#bab6b6" stroke="#333" stroke-width="0.95"/>
<circle cx="28.2" cy="238.6" r="1.7" fill="#bab6b6" stroke="#333" stroke-width="0.95"/>
<circle cx="34.8" cy="239.5" r="1.7" fill="#bab6b6" stroke="#333" stroke-width="0.95"/>
<circle cx="27.9" cy="245.4" r="1.7" fill="#bab6b6" stroke="#333" stroke-width="0.95"/>
<circle cx="29.6" cy="248.3" r="1.7" fill="#bab6b6" stroke="#333" stroke-width="0.95"/>
<circle cx="55.8" cy="91.8" r="1.7" fill="#bab6b6" stroke="#333" stroke-width="0.95"/>
<circle cx="60.3" cy="98.3" r="1.9" fill="#bab6b6" stroke="#333" stroke-width="0.95"/>
<circle cx="58.7" cy="100.9" r="1.9" fill="#bab6b6" stroke="#333" stroke-width="0.95"/>
<circle cx="60.1" cy="108.8" r="1.9" fill="#bab6b6" stroke="#333" stroke-width="0.95"/>
<circle cx="71.0" cy="118.2" r="1.9" fill="#bab6b6" stroke="#333" stroke-width="0.95"/>
<circle cx="72.0" cy="121.3" r="1.9" fill="#bab6b6" stroke="#333" stroke-width="0.95"/>
<circle cx="69.5" cy="123.4" r="1.9" fill="#bab6b6" stroke="#333" stroke-width="0.95"/>
<circle cx="71.4" cy="127.5" r="1.9" fill="#bab6b6" stroke="#333" stroke-width="0.95"/>
<circle cx="71.4" cy="129.7" r="1.9" fill="#bab6b6" stroke="#333" stroke-width="0.95"/>
<circle cx="72.9" cy="133.0" r="1.9" fill="#bab6b6" stroke="#333" stroke-width="0.95"/>
<circle cx="79.1" cy="148.3" r="1.9" fill="#bab6b6" stroke="#333" stroke-width="0.95"/>
<circle cx="82.0" cy="148.3" r="1.9" fill="#bab6b6" stroke="#333" stroke-width="0.95"/>
<circle cx="78.0" cy="151.6" r="1.9" fill="#bab6b6" stroke="#333" stroke-width="0.95"/>
<circle cx="80.2" cy="154.2" r="1.9" fill="#bab6b6" stroke="#333" stroke-width="0.95"/>
<circle cx="76.9" cy="156.0" r="1.9" fill="#bab6b6" stroke="#333" stroke-width="0.95"/>
<circle cx="81.5" cy="157.5" r="1.9" fill="#bab6b6" stroke="#333" stroke-width="0.95"/>
<circle cx="15.8" cy="144.1" r="1.7" fill="#bab6b6" stroke="#333" stroke-width="0.95"/>
<circle cx="15.1" cy="147.7" r="1.7" fill="#bab6b6" stroke="#333" stroke-width="0.95"/>
<circle cx="11.8" cy="150.3" r="1.7" fill="#bab6b6" stroke="#333" stroke-width="0.95"/>
<circle cx="11.6" cy="153.6" r="1.7" fill="#bab6b6" stroke="#333" stroke-width="0.95"/>
<circle cx="22.1" cy="158.8" r="1.7" fill="#bab6b6" stroke="#333" stroke-width="0.95"/>
<circle cx="59.2" cy="104.7" r="1.8" fill="#8fd0ef" stroke="#333" stroke-width="0.9"/>
<circle cx="76.2" cy="139.6" r="1.8" fill="#8fd0ef" stroke="#333" stroke-width="0.9"/>
<circle cx="80.2" cy="138.5" r="1.8" fill="#8fd0ef" stroke="#333" stroke-width="0.9"/>
<circle cx="75.7" cy="141.8" r="1.8" fill="#8fd0ef" stroke="#333" stroke-width="0.9"/>
<circle cx="174.7" cy="179.2" r="1.8" fill="#8fd0ef" stroke="#333" stroke-width="0.9"/>
<text x="65.6" y="100.0" font-size="5.6" fill="#222" stroke="#222" stroke-width="0.3" text-anchor="middle" dominant-baseline="central" transform="rotate(-58 65.6 100.0)">2</text>
<text x="64.0" y="106.8" font-size="5.6" fill="#222" stroke="#222" stroke-width="0.3" text-anchor="middle" dominant-baseline="central" transform="rotate(-58 64.0 106.8)">4</text>
<text x="65.8" y="113.2" font-size="5.6" fill="#222" stroke="#222" stroke-width="0.3" text-anchor="middle" dominant-baseline="central" transform="rotate(-58 65.8 113.2)">9</text>
<text x="75.6" y="116.2" font-size="5.6" fill="#222" stroke="#222" stroke-width="0.3" text-anchor="middle" dominant-baseline="central" transform="rotate(-58 75.6 116.2)">14</text>
<text x="78.3" y="121.9" font-size="5.6" fill="#222" stroke="#222" stroke-width="0.3" text-anchor="middle" dominant-baseline="central" transform="rotate(-58 78.3 121.9)">25</text>
<text x="78.8" y="125.6" font-size="5.6" fill="#222" stroke="#222" stroke-width="0.3" text-anchor="middle" dominant-baseline="central" transform="rotate(-58 78.8 125.6)">31</text>
<text x="80.4" y="129.4" font-size="5.6" fill="#222" stroke="#222" stroke-width="0.3" text-anchor="middle" dominant-baseline="central" transform="rotate(-58 80.4 129.4)">47</text>
<text x="78.6" y="133.4" font-size="5.6" fill="#222" stroke="#222" stroke-width="0.3" text-anchor="middle" dominant-baseline="central" transform="rotate(-58 78.6 133.4)">54</text>
<text x="86.6" y="138.4" font-size="5.6" fill="#222" stroke="#222" stroke-width="0.3" text-anchor="middle" dominant-baseline="central" transform="rotate(-58 86.6 138.4)">109</text>
<text x="83.4" y="142.6" font-size="5.6" fill="#222" stroke="#222" stroke-width="0.3" text-anchor="middle" dominant-baseline="central" transform="rotate(-58 83.4 142.6)">119</text>
<text x="87.2" y="147.8" font-size="5.6" fill="#222" stroke="#222" stroke-width="0.3" text-anchor="middle" dominant-baseline="central" transform="rotate(-58 87.2 147.8)">72</text>
<text x="86.4" y="153.2" font-size="5.6" fill="#222" stroke="#222" stroke-width="0.3" text-anchor="middle" dominant-baseline="central" transform="rotate(-58 86.4 153.2)">83</text>
<text x="85.4" y="157.6" font-size="5.6" fill="#222" stroke="#222" stroke-width="0.3" text-anchor="middle" dominant-baseline="central" transform="rotate(-58 85.4 157.6)">95</text>
<text x="81.6" y="161.9" font-size="5.6" fill="#222" stroke="#222" stroke-width="0.3" text-anchor="middle" dominant-baseline="central" transform="rotate(-58 81.6 161.9)">100</text>
<text x="177.0" y="182.2" font-size="4.6" fill="#333" transform="rotate(15 177 182.2)">141</text>
<text x="129.30" y="92.20" font-size="10.3" textLength="116.8" lengthAdjust="spacingAndGlyphs">BA.2 sequences sampled</text>
<text x="132.80" y="107.40" font-size="10.3" textLength="109.8" lengthAdjust="spacingAndGlyphs">from Freiburg, Germany</text>
<text x="214.90" y="169.30" font-size="10.3" textLength="88.8" lengthAdjust="spacingAndGlyphs">clinical sample type</text>
<line x1="215.40" y1="186.80" x2="231.20" y2="186.80" stroke="#222" stroke-width="1.2"/>
<circle cx="223.30" cy="186.80" r="2.8" fill="#a9d9ef" stroke="#222" stroke-width="1"/>
<text x="240.00" y="190.30" font-size="10.3">BAL</text>
<line x1="215.40" y1="206.40" x2="231.20" y2="206.40" stroke="#222" stroke-width="1.2"/>
<circle cx="223.30" cy="206.40" r="2.8" fill="#bdb9b9" stroke="#222" stroke-width="1"/>
<text x="240.00" y="210.10" font-size="10.3">swab</text>
<text x="216.60" y="234.10" font-size="10.3">lineage</text>
<line x1="215.40" y1="252.00" x2="231.20" y2="252.00" stroke="#cfcdcd" stroke-width="1.3"/>
<text x="240.00" y="255.60" font-size="10.3">BA.2</text>
<line x1="215.40" y1="271.20" x2="231.20" y2="271.20" stroke="#f5a623" stroke-width="1.3"/>
<text x="240.00" y="275.80" font-size="10.3">patient</text>
<line x1="20.30" y1="134.50" x2="37.60" y2="134.50" stroke="#777" stroke-width="0.9"/>
<text x="22.80" y="132.10" font-size="5.0" fill="#333" textLength="12.3" lengthAdjust="spacingAndGlyphs">2e−04</text>
<line x1="461.80" y1="20.10" x2="461.80" y2="139.40" stroke="#262626" stroke-width="1.3"/>
<line x1="455.00" y1="138.80" x2="461.80" y2="138.80" stroke="#262626" stroke-width="1.1"/>
<text x="453.20" y="142.40" font-size="10.0" text-anchor="end">0</text>
<line x1="458.20" y1="134.86" x2="461.80" y2="134.86" stroke="#262626" stroke-width="1.0"/>
<line x1="458.20" y1="130.92" x2="461.80" y2="130.92" stroke="#262626" stroke-width="1.0"/>
<line x1="458.20" y1="126.98" x2="461.80" y2="126.98" stroke="#262626" stroke-width="1.0"/>
<line x1="458.20" y1="123.04" x2="461.80" y2="123.04" stroke="#262626" stroke-width="1.0"/>
<line x1="455.00" y1="119.10" x2="461.80" y2="119.10" stroke="#262626" stroke-width="1.1"/>
<text x="453.20" y="122.70" font-size="10.0" text-anchor="end">10</text>
<line x1="458.20" y1="115.16" x2="461.80" y2="115.16" stroke="#262626" stroke-width="1.0"/>
<line x1="458.20" y1="111.22" x2="461.80" y2="111.22" stroke="#262626" stroke-width="1.0"/>
<line x1="458.20" y1="107.28" x2="461.80" y2="107.28" stroke="#262626" stroke-width="1.0"/>
<line x1="458.20" y1="103.34" x2="461.80" y2="103.34" stroke="#262626" stroke-width="1.0"/>
<line x1="455.00" y1="99.40" x2="461.80" y2="99.40" stroke="#262626" stroke-width="1.1"/>
<text x="453.20" y="103.00" font-size="10.0" text-anchor="end">20</text>
<line x1="458.20" y1="95.46" x2="461.80" y2="95.46" stroke="#262626" stroke-width="1.0"/>
<line x1="458.20" y1="91.52" x2="461.80" y2="91.52" stroke="#262626" stroke-width="1.0"/>
<line x1="458.20" y1="87.58" x2="461.80" y2="87.58" stroke="#262626" stroke-width="1.0"/>
<line x1="458.20" y1="83.64" x2="461.80" y2="83.64" stroke="#262626" stroke-width="1.0"/>
<line x1="455.00" y1="79.70" x2="461.80" y2="79.70" stroke="#262626" stroke-width="1.1"/>
<text x="453.20" y="83.30" font-size="10.0" text-anchor="end">30</text>
<line x1="458.20" y1="75.76" x2="461.80" y2="75.76" stroke="#262626" stroke-width="1.0"/>
<line x1="458.20" y1="71.82" x2="461.80" y2="71.82" stroke="#262626" stroke-width="1.0"/>
<line x1="458.20" y1="67.88" x2="461.80" y2="67.88" stroke="#262626" stroke-width="1.0"/>
<line x1="458.20" y1="63.94" x2="461.80" y2="63.94" stroke="#262626" stroke-width="1.0"/>
<line x1="455.00" y1="60.00" x2="461.80" y2="60.00" stroke="#262626" stroke-width="1.1"/>
<text x="453.20" y="63.60" font-size="10.0" text-anchor="end">40</text>
<line x1="458.20" y1="56.06" x2="461.80" y2="56.06" stroke="#262626" stroke-width="1.0"/>
<line x1="458.20" y1="52.12" x2="461.80" y2="52.12" stroke="#262626" stroke-width="1.0"/>
<line x1="458.20" y1="48.18" x2="461.80" y2="48.18" stroke="#262626" stroke-width="1.0"/>
<line x1="458.20" y1="44.24" x2="461.80" y2="44.24" stroke="#262626" stroke-width="1.0"/>
<line x1="455.00" y1="40.30" x2="461.80" y2="40.30" stroke="#262626" stroke-width="1.1"/>
<text x="453.20" y="43.90" font-size="10.0" text-anchor="end">50</text>
<line x1="458.20" y1="36.36" x2="461.80" y2="36.36" stroke="#262626" stroke-width="1.0"/>
<line x1="458.20" y1="32.42" x2="461.80" y2="32.42" stroke="#262626" stroke-width="1.0"/>
<line x1="458.20" y1="28.48" x2="461.80" y2="28.48" stroke="#262626" stroke-width="1.0"/>
<line x1="458.20" y1="24.54" x2="461.80" y2="24.54" stroke="#262626" stroke-width="1.0"/>
<line x1="455.00" y1="20.60" x2="461.80" y2="20.60" stroke="#262626" stroke-width="1.1"/>
<text x="453.20" y="24.20" font-size="10.0" text-anchor="end">60</text>
<line x1="461.20" y1="138.80" x2="658.90" y2="138.80" stroke="#262626" stroke-width="1.3"/>
<line x1="462.40" y1="138.80" x2="462.40" y2="145.80" stroke="#262626" stroke-width="1.1"/>
<text x="462.40" y="157.70" font-size="10.0" text-anchor="middle">0</text>
<line x1="488.52" y1="138.80" x2="488.52" y2="145.80" stroke="#262626" stroke-width="1.1"/>
<text x="488.52" y="157.70" font-size="10.0" text-anchor="middle">20</text>
<line x1="514.64" y1="138.80" x2="514.64" y2="145.80" stroke="#262626" stroke-width="1.1"/>
<text x="514.64" y="157.70" font-size="10.0" text-anchor="middle">40</text>
<line x1="540.76" y1="138.80" x2="540.76" y2="145.80" stroke="#262626" stroke-width="1.1"/>
<text x="540.76" y="157.70" font-size="10.0" text-anchor="middle">60</text>
<line x1="566.88" y1="138.80" x2="566.88" y2="145.80" stroke="#262626" stroke-width="1.1"/>
<text x="566.88" y="157.70" font-size="10.0" text-anchor="middle">80</text>
<line x1="593.00" y1="138.80" x2="593.00" y2="145.80" stroke="#262626" stroke-width="1.1"/>
<text x="593.00" y="157.70" font-size="10.0" text-anchor="middle">100</text>
<line x1="619.12" y1="138.80" x2="619.12" y2="145.80" stroke="#262626" stroke-width="1.1"/>
<text x="619.12" y="157.70" font-size="10.0" text-anchor="middle">120</text>
<line x1="645.24" y1="138.80" x2="645.24" y2="145.80" stroke="#262626" stroke-width="1.1"/>
<text x="645.24" y="157.70" font-size="10.0" text-anchor="middle">140</text>
<line x1="467.62" y1="138.80" x2="467.62" y2="142.60" stroke="#262626" stroke-width="1.0"/>
<line x1="472.85" y1="138.80" x2="472.85" y2="142.60" stroke="#262626" stroke-width="1.0"/>
<line x1="478.07" y1="138.80" x2="478.07" y2="142.60" stroke="#262626" stroke-width="1.0"/>
<line x1="483.30" y1="138.80" x2="483.30" y2="142.60" stroke="#262626" stroke-width="1.0"/>
<line x1="493.74" y1="138.80" x2="493.74" y2="142.60" stroke="#262626" stroke-width="1.0"/>
<line x1="498.97" y1="138.80" x2="498.97" y2="142.60" stroke="#262626" stroke-width="1.0"/>
<line x1="504.19" y1="138.80" x2="504.19" y2="142.60" stroke="#262626" stroke-width="1.0"/>
<line x1="509.42" y1="138.80" x2="509.42" y2="142.60" stroke="#262626" stroke-width="1.0"/>
<line x1="519.86" y1="138.80" x2="519.86" y2="142.60" stroke="#262626" stroke-width="1.0"/>
<line x1="525.09" y1="138.80" x2="525.09" y2="142.60" stroke="#262626" stroke-width="1.0"/>
<line x1="530.31" y1="138.80" x2="530.31" y2="142.60" stroke="#262626" stroke-width="1.0"/>
<line x1="535.54" y1="138.80" x2="535.54" y2="142.60" stroke="#262626" stroke-width="1.0"/>
<line x1="545.98" y1="138.80" x2="545.98" y2="142.60" stroke="#262626" stroke-width="1.0"/>
<line x1="551.21" y1="138.80" x2="551.21" y2="142.60" stroke="#262626" stroke-width="1.0"/>
<line x1="556.43" y1="138.80" x2="556.43" y2="142.60" stroke="#262626" stroke-width="1.0"/>
<line x1="561.66" y1="138.80" x2="561.66" y2="142.60" stroke="#262626" stroke-width="1.0"/>
<line x1="572.10" y1="138.80" x2="572.10" y2="142.60" stroke="#262626" stroke-width="1.0"/>
<line x1="577.33" y1="138.80" x2="577.33" y2="142.60" stroke="#262626" stroke-width="1.0"/>
<line x1="582.55" y1="138.80" x2="582.55" y2="142.60" stroke="#262626" stroke-width="1.0"/>
<line x1="587.78" y1="138.80" x2="587.78" y2="142.60" stroke="#262626" stroke-width="1.0"/>
<line x1="598.22" y1="138.80" x2="598.22" y2="142.60" stroke="#262626" stroke-width="1.0"/>
<line x1="603.45" y1="138.80" x2="603.45" y2="142.60" stroke="#262626" stroke-width="1.0"/>
<line x1="608.67" y1="138.80" x2="608.67" y2="142.60" stroke="#262626" stroke-width="1.0"/>
<line x1="613.90" y1="138.80" x2="613.90" y2="142.60" stroke="#262626" stroke-width="1.0"/>
<line x1="624.34" y1="138.80" x2="624.34" y2="142.60" stroke="#262626" stroke-width="1.0"/>
<line x1="629.57" y1="138.80" x2="629.57" y2="142.60" stroke="#262626" stroke-width="1.0"/>
<line x1="634.79" y1="138.80" x2="634.79" y2="142.60" stroke="#262626" stroke-width="1.0"/>
<line x1="640.02" y1="138.80" x2="640.02" y2="142.60" stroke="#262626" stroke-width="1.0"/>
<line x1="650.46" y1="138.80" x2="650.46" y2="142.60" stroke="#262626" stroke-width="1.0"/>
<line x1="655.69" y1="138.80" x2="655.69" y2="142.60" stroke="#262626" stroke-width="1.0"/>
<text x="494.20" y="174.70" font-size="10.2" textLength="135.5" lengthAdjust="spacingAndGlyphs">days post lung transplantation</text>
<text x="421.20" y="80.60" font-size="10.1" text-anchor="middle" textLength="108.0" lengthAdjust="spacingAndGlyphs" transform="rotate(-90 421.20 80.60)">n mutations (&gt;50% freq)</text>
<text x="433.60" y="79.80" font-size="10.1" text-anchor="middle" transform="rotate(-90 433.60 79.80)">compared to day-9</text>
<line x1="474.00" y1="26.40" x2="494.00" y2="26.40" stroke="#9a9a9a" stroke-width="1" stroke-dasharray="1 1.3"/>
<circle cx="484.00" cy="26.40" r="3.0" fill="#8c8a8a" stroke="none" stroke-width="0"/>
<text x="505.60" y="29.90" font-size="10.2" textLength="25.2" lengthAdjust="spacingAndGlyphs">swab</text>
<line x1="474.00" y1="44.80" x2="494.00" y2="44.80" stroke="#5a5ad0" stroke-width="0.9" stroke-dasharray="1 1.3"/>
<rect x="481.20" y="42.00" width="5.60" height="5.60" fill="#3f4fb3" stroke="none" stroke-width="0"/>
<text x="505.60" y="48.40" font-size="10.2">BAL</text>
<line x1="474.00" y1="61.90" x2="494.00" y2="61.90" stroke="#222" stroke-width="1.2"/>
<text x="505.60" y="65.50" font-size="10.2" textLength="74.3" lengthAdjust="spacingAndGlyphs">linear regression</text>
<polyline points="462.6,138.3 464.4,137.0 485.8,126.7 496.1,124.4 504.2,124.4 523.6,124.8 534.1,120.9 540.4,120.9 561.7,112.7 573.4,112.7 581.1,112.7 587.9,115.0 593.2,112.7" fill="none" stroke="#8a8888" stroke-width="0.8" stroke-dasharray="1 1.4"/>
<polyline points="467.3,134.4 571.0,116.9 597.9,112.7 607.9,122.9 646.4,45.8" fill="none" stroke="#6a6ae0" stroke-width="0.8" stroke-dasharray="1 1.4"/>
<line x1="463.40" y1="134.90" x2="646.90" y2="105.20" stroke="#1a1a1a" stroke-width="1.1"/>
<circle cx="462.60" cy="138.30" r="2.95" fill="#8c8a8a" stroke="none" stroke-width="0"/>
<circle cx="464.40" cy="137.00" r="2.95" fill="#8c8a8a" stroke="none" stroke-width="0"/>
<circle cx="485.80" cy="126.70" r="2.95" fill="#8c8a8a" stroke="none" stroke-width="0"/>
<circle cx="496.10" cy="124.40" r="2.95" fill="#8c8a8a" stroke="none" stroke-width="0"/>
<circle cx="504.20" cy="124.40" r="2.95" fill="#8c8a8a" stroke="none" stroke-width="0"/>
<circle cx="523.60" cy="124.80" r="2.95" fill="#8c8a8a" stroke="none" stroke-width="0"/>
<circle cx="534.10" cy="120.90" r="2.95" fill="#8c8a8a" stroke="none" stroke-width="0"/>
<circle cx="540.40" cy="120.90" r="2.95" fill="#8c8a8a" stroke="none" stroke-width="0"/>
<circle cx="561.70" cy="112.70" r="2.95" fill="#8c8a8a" stroke="none" stroke-width="0"/>
<circle cx="573.40" cy="112.70" r="2.95" fill="#8c8a8a" stroke="none" stroke-width="0"/>
<circle cx="581.10" cy="112.70" r="2.95" fill="#8c8a8a" stroke="none" stroke-width="0"/>
<circle cx="587.90" cy="115.00" r="2.95" fill="#8c8a8a" stroke="none" stroke-width="0"/>
<circle cx="593.20" cy="112.70" r="2.95" fill="#8c8a8a" stroke="none" stroke-width="0"/>
<rect x="464.40" y="131.50" width="5.80" height="5.80" fill="#3f4fb3" stroke="none" stroke-width="0"/>
<rect x="568.10" y="114.00" width="5.80" height="5.80" fill="#3f4fb3" stroke="none" stroke-width="0"/>
<rect x="595.00" y="109.80" width="5.80" height="5.80" fill="#3f4fb3" stroke="none" stroke-width="0"/>
<rect x="605.00" y="120.00" width="5.80" height="5.80" fill="#3f4fb3" stroke="none" stroke-width="0"/>
<rect x="643.50" y="42.90" width="5.80" height="5.80" fill="#3f4fb3" stroke="none" stroke-width="0"/>
<text x="619.80" y="121.00" font-size="7.2" textLength="25.1" lengthAdjust="spacingAndGlyphs">R²=0.78</text>
<rect x="411.20" y="209.10" width="16.20" height="15.80" fill="#ffffff"/>
<text x="419.30" y="219.90" font-size="8.2" text-anchor="middle" textLength="4.23" lengthAdjust="spacingAndGlyphs">0</text>
<rect x="427.40" y="209.10" width="16.30" height="15.80" fill="#ffffff"/>
<text x="435.55" y="219.90" font-size="8.2" text-anchor="middle" textLength="4.23" lengthAdjust="spacingAndGlyphs">0</text>
<rect x="443.70" y="209.10" width="16.40" height="15.80" fill="#ffffff"/>
<text x="451.90" y="219.90" font-size="8.2" text-anchor="middle" textLength="4.23" lengthAdjust="spacingAndGlyphs">0</text>
<rect x="460.10" y="209.10" width="16.80" height="15.80" fill="#fdb4b8"/>
<text x="468.50" y="219.90" font-size="8.2" text-anchor="middle" textLength="14.79" lengthAdjust="spacingAndGlyphs">17.0</text>
<rect x="411.20" y="224.90" width="16.20" height="16.10" fill="#ffffff"/>
<text x="419.30" y="235.85" font-size="8.2" text-anchor="middle" textLength="4.23" lengthAdjust="spacingAndGlyphs">0</text>
<rect x="427.40" y="224.90" width="16.30" height="16.10" fill="#ffffff"/>
<text x="435.55" y="235.85" font-size="8.2" text-anchor="middle" textLength="4.23" lengthAdjust="spacingAndGlyphs">0</text>
<rect x="443.70" y="224.90" width="16.40" height="16.10" fill="#fdb4b8"/>
<text x="451.90" y="235.85" font-size="8.2" text-anchor="middle" textLength="14.79" lengthAdjust="spacingAndGlyphs">17.0</text>
<rect x="460.10" y="224.90" width="16.80" height="16.10" fill="#ffffff"/>
<text x="468.50" y="235.85" font-size="8.2" text-anchor="middle" textLength="4.23" lengthAdjust="spacingAndGlyphs">0</text>
<rect x="411.20" y="241.00" width="16.20" height="16.30" fill="#ffffff"/>
<text x="419.30" y="252.05" font-size="8.2" text-anchor="middle" textLength="4.23" lengthAdjust="spacingAndGlyphs">0</text>
<rect x="427.40" y="241.00" width="16.30" height="16.30" fill="#d42614"/>
<text x="435.55" y="252.05" font-size="8.2" text-anchor="middle" textLength="14.79" lengthAdjust="spacingAndGlyphs">46.8</text>
<rect x="443.70" y="241.00" width="16.40" height="16.30" fill="#ffffff"/>
<text x="451.90" y="252.05" font-size="8.2" text-anchor="middle" textLength="4.23" lengthAdjust="spacingAndGlyphs">0</text>
<rect x="460.10" y="241.00" width="16.80" height="16.30" fill="#ffffff"/>
<text x="468.50" y="252.05" font-size="8.2" text-anchor="middle" textLength="4.23" lengthAdjust="spacingAndGlyphs">0</text>
<rect x="411.20" y="257.30" width="16.20" height="16.20" fill="#fcbcc0"/>
<text x="419.30" y="268.30" font-size="8.2" text-anchor="middle" textLength="14.79" lengthAdjust="spacingAndGlyphs">14.9</text>
<rect x="427.40" y="257.30" width="16.30" height="16.20" fill="#fff1f1"/>
<text x="435.55" y="268.30" font-size="8.2" text-anchor="middle" textLength="10.56" lengthAdjust="spacingAndGlyphs">2.1</text>
<rect x="443.70" y="257.30" width="16.40" height="16.20" fill="#fff1f1"/>
<text x="451.90" y="268.30" font-size="8.2" text-anchor="middle" textLength="10.56" lengthAdjust="spacingAndGlyphs">2.1</text>
<rect x="460.10" y="257.30" width="16.80" height="16.20" fill="#ffffff"/>
<text x="468.50" y="268.30" font-size="8.2" text-anchor="middle" textLength="4.23" lengthAdjust="spacingAndGlyphs">0</text>
<rect x="411.20" y="209.10" width="65.70" height="64.40" fill="none" stroke="#262626" stroke-width="1.3"/>
<line x1="406.30" y1="217.00" x2="411.20" y2="217.00" stroke="#262626" stroke-width="1.1"/>
<text x="404.30" y="219.90" font-size="8.2" text-anchor="end">a</text>
<line x1="406.30" y1="232.95" x2="411.20" y2="232.95" stroke="#262626" stroke-width="1.1"/>
<text x="404.30" y="235.85" font-size="8.2" text-anchor="end">t</text>
<line x1="406.30" y1="249.15" x2="411.20" y2="249.15" stroke="#262626" stroke-width="1.1"/>
<text x="404.30" y="252.05" font-size="8.2" text-anchor="end">c</text>
<line x1="406.30" y1="265.40" x2="411.20" y2="265.40" stroke="#262626" stroke-width="1.1"/>
<text x="404.30" y="268.30" font-size="8.2" text-anchor="end">g</text>
<line x1="419.30" y1="273.50" x2="419.30" y2="278.60" stroke="#262626" stroke-width="1.1"/>
<text x="419.30" y="288.60" font-size="8.2" text-anchor="middle">a</text>
<line x1="435.55" y1="273.50" x2="435.55" y2="278.60" stroke="#262626" stroke-width="1.1"/>
<text x="435.55" y="288.60" font-size="8.2" text-anchor="middle">t</text>
<line x1="451.90" y1="273.50" x2="451.90" y2="278.60" stroke="#262626" stroke-width="1.1"/>
<text x="451.90" y="288.60" font-size="8.2" text-anchor="middle">c</text>
<line x1="468.50" y1="273.50" x2="468.50" y2="278.60" stroke="#262626" stroke-width="1.1"/>
<text x="468.50" y="288.60" font-size="8.2" text-anchor="middle">g</text>
<text x="443.80" y="295.10" font-size="8.3" text-anchor="middle" textLength="26.3" lengthAdjust="spacingAndGlyphs">mutation</text>
<text x="396.60" y="245.00" font-size="7.6" text-anchor="middle" textLength="30" lengthAdjust="spacingAndGlyphs" transform="rotate(-90 396.60 245.00)">reference</text>
<defs><linearGradient id="hg" x1="0" x2="1" y1="0" y2="0"><stop offset="0" stop-color="#ffffff"/><stop offset="1" stop-color="#d42614"/></linearGradient></defs>
<rect x="412.10" y="310.10" width="63.80" height="11.40" fill="url(#hg)" stroke="#262626" stroke-width="1.2"/>
<line x1="424.86" y1="310.10" x2="424.86" y2="312.60" stroke="#262626" stroke-width="0.9"/>
<line x1="424.86" y1="314.60" x2="424.86" y2="316.90" stroke="#262626" stroke-width="0.9"/>
<line x1="424.86" y1="319.00" x2="424.86" y2="321.50" stroke="#262626" stroke-width="0.9"/>
<line x1="437.62" y1="310.10" x2="437.62" y2="312.60" stroke="#262626" stroke-width="0.9"/>
<line x1="437.62" y1="314.60" x2="437.62" y2="316.90" stroke="#262626" stroke-width="0.9"/>
<line x1="437.62" y1="319.00" x2="437.62" y2="321.50" stroke="#262626" stroke-width="0.9"/>
<line x1="450.38" y1="310.10" x2="450.38" y2="312.60" stroke="#262626" stroke-width="0.9"/>
<line x1="450.38" y1="314.60" x2="450.38" y2="316.90" stroke="#262626" stroke-width="0.9"/>
<line x1="450.38" y1="319.00" x2="450.38" y2="321.50" stroke="#262626" stroke-width="0.9"/>
<line x1="463.14" y1="310.10" x2="463.14" y2="312.60" stroke="#262626" stroke-width="0.9"/>
<line x1="463.14" y1="314.60" x2="463.14" y2="316.90" stroke="#262626" stroke-width="0.9"/>
<line x1="463.14" y1="319.00" x2="463.14" y2="321.50" stroke="#262626" stroke-width="0.9"/>
<text x="412.40" y="334.80" font-size="8.2" text-anchor="middle" textLength="4.0" lengthAdjust="spacingAndGlyphs">0</text>
<text x="425.12" y="334.80" font-size="8.2" text-anchor="middle" textLength="8.01" lengthAdjust="spacingAndGlyphs">10</text>
<text x="437.84" y="334.80" font-size="8.2" text-anchor="middle" textLength="8.01" lengthAdjust="spacingAndGlyphs">20</text>
<text x="450.56" y="334.80" font-size="8.2" text-anchor="middle" textLength="8.01" lengthAdjust="spacingAndGlyphs">30</text>
<text x="463.28" y="334.80" font-size="8.2" text-anchor="middle" textLength="8.01" lengthAdjust="spacingAndGlyphs">40</text>
<text x="476.00" y="334.80" font-size="8.2" text-anchor="middle" textLength="8.01" lengthAdjust="spacingAndGlyphs">50</text>
<text x="406.60" y="346.60" font-size="8.6" textLength="83.2" lengthAdjust="spacingAndGlyphs">percentage substitutions</text>
<line x1="515.40" y1="211.50" x2="577.50" y2="211.50" stroke="#262626" stroke-width="1.0"/>
<line x1="515.40" y1="211.00" x2="515.40" y2="273.90" stroke="#262626" stroke-width="1.1"/>
<line x1="577.50" y1="211.00" x2="577.50" y2="273.90" stroke="#262626" stroke-width="1.1"/>
<line x1="509.20" y1="273.40" x2="583.00" y2="273.40" stroke="#262626" stroke-width="1.1"/>
<line x1="509.20" y1="273.40" x2="515.40" y2="273.40" stroke="#262626" stroke-width="1.0"/>
<text x="507.20" y="276.30" font-size="8.1" text-anchor="end">0</text>
<line x1="509.20" y1="261.02" x2="515.40" y2="261.02" stroke="#262626" stroke-width="1.0"/>
<text x="507.20" y="263.92" font-size="8.1" text-anchor="end">20</text>
<line x1="509.20" y1="248.64" x2="515.40" y2="248.64" stroke="#262626" stroke-width="1.0"/>
<text x="507.20" y="251.54" font-size="8.1" text-anchor="end">40</text>
<line x1="509.20" y1="236.26" x2="515.40" y2="236.26" stroke="#262626" stroke-width="1.0"/>
<text x="507.20" y="239.16" font-size="8.1" text-anchor="end">60</text>
<line x1="509.20" y1="223.88" x2="515.40" y2="223.88" stroke="#262626" stroke-width="1.0"/>
<text x="507.20" y="226.78" font-size="8.1" text-anchor="end">80</text>
<line x1="509.20" y1="211.50" x2="515.40" y2="211.50" stroke="#262626" stroke-width="1.0"/>
<text x="507.20" y="214.40" font-size="8.1" text-anchor="end">100</text>
<line x1="577.50" y1="273.40" x2="582.50" y2="273.40" stroke="#262626" stroke-width="1.0"/>
<text x="585.80" y="276.30" font-size="8.1" font-weight="bold" fill="#d0115a">0</text>
<line x1="577.50" y1="270.92" x2="580.30" y2="270.92" stroke="#262626" stroke-width="0.8"/>
<line x1="577.50" y1="268.45" x2="580.30" y2="268.45" stroke="#262626" stroke-width="0.8"/>
<line x1="577.50" y1="265.97" x2="580.30" y2="265.97" stroke="#262626" stroke-width="0.8"/>
<line x1="577.50" y1="263.50" x2="580.30" y2="263.50" stroke="#262626" stroke-width="0.8"/>
<line x1="577.50" y1="261.02" x2="582.50" y2="261.02" stroke="#262626" stroke-width="1.0"/>
<text x="585.80" y="263.92" font-size="8.1" font-weight="bold" fill="#d0115a">5</text>
<line x1="577.50" y1="258.54" x2="580.30" y2="258.54" stroke="#262626" stroke-width="0.8"/>
<line x1="577.50" y1="256.07" x2="580.30" y2="256.07" stroke="#262626" stroke-width="0.8"/>
<line x1="577.50" y1="253.59" x2="580.30" y2="253.59" stroke="#262626" stroke-width="0.8"/>
<line x1="577.50" y1="251.12" x2="580.30" y2="251.12" stroke="#262626" stroke-width="0.8"/>
<line x1="577.50" y1="248.64" x2="582.50" y2="248.64" stroke="#262626" stroke-width="1.0"/>
<text x="585.80" y="251.54" font-size="8.1" font-weight="bold" fill="#d0115a">10</text>
<line x1="577.50" y1="246.16" x2="580.30" y2="246.16" stroke="#262626" stroke-width="0.8"/>
<line x1="577.50" y1="243.69" x2="580.30" y2="243.69" stroke="#262626" stroke-width="0.8"/>
<line x1="577.50" y1="241.21" x2="580.30" y2="241.21" stroke="#262626" stroke-width="0.8"/>
<line x1="577.50" y1="238.74" x2="580.30" y2="238.74" stroke="#262626" stroke-width="0.8"/>
<line x1="577.50" y1="236.26" x2="582.50" y2="236.26" stroke="#262626" stroke-width="1.0"/>
<text x="585.80" y="239.16" font-size="8.1" font-weight="bold" fill="#d0115a">15</text>
<line x1="577.50" y1="233.78" x2="580.30" y2="233.78" stroke="#262626" stroke-width="0.8"/>
<line x1="577.50" y1="231.31" x2="580.30" y2="231.31" stroke="#262626" stroke-width="0.8"/>
<line x1="577.50" y1="228.83" x2="580.30" y2="228.83" stroke="#262626" stroke-width="0.8"/>
<line x1="577.50" y1="226.36" x2="580.30" y2="226.36" stroke="#262626" stroke-width="0.8"/>
<line x1="577.50" y1="223.88" x2="582.50" y2="223.88" stroke="#262626" stroke-width="1.0"/>
<text x="585.80" y="226.78" font-size="8.1" font-weight="bold" fill="#d0115a">20</text>
<line x1="577.50" y1="221.40" x2="580.30" y2="221.40" stroke="#262626" stroke-width="0.8"/>
<line x1="577.50" y1="218.93" x2="580.30" y2="218.93" stroke="#262626" stroke-width="0.8"/>
<line x1="577.50" y1="216.45" x2="580.30" y2="216.45" stroke="#262626" stroke-width="0.8"/>
<line x1="577.50" y1="213.98" x2="580.30" y2="213.98" stroke="#262626" stroke-width="0.8"/>
<line x1="577.50" y1="211.50" x2="582.50" y2="211.50" stroke="#262626" stroke-width="1.0"/>
<text x="585.80" y="214.40" font-size="8.1" font-weight="bold" fill="#d0115a">25</text>
<rect x="522.10" y="246.10" width="12.10" height="27.30" fill="#0c0c0c" stroke="#222" stroke-width="0.6"/>
<rect x="540.30" y="272.20" width="12.70" height="1.20" fill="#a9a5a9" stroke="#444" stroke-width="0.5"/>
<rect x="559.00" y="218.00" width="12.40" height="55.40" fill="#d0115a" stroke="none" stroke-width="0"/>
<text x="491.10" y="237.90" font-size="8.8" text-anchor="middle" textLength="16.3" lengthAdjust="spacingAndGlyphs" transform="rotate(-90 491.10 237.90)">count</text>
<text x="599.50" y="241.80" font-size="8" text-anchor="middle" font-weight="bold" fill="#d0115a" textLength="13.2" lengthAdjust="spacingAndGlyphs" transform="rotate(90 599.50 241.80)">ts/tv</text>
<path d="M646.50,208.60 A32.4,32.4 0 1 1 640.05,272.75 L643.31,256.68 A16.0,16.0 0 1 0 646.50,225.00 Z" fill="#f9a33e"/>
<path d="M640.05,272.75 A32.4,32.4 0 0 1 646.50,208.60 L646.50,225.00 A16.0,16.0 0 0 0 643.31,256.68 Z" fill="#9d91d8"/>
<circle cx="646.50" cy="241.00" r="32.4" fill="none" stroke="#1e1e1e" stroke-width="1.0"/>
<circle cx="646.50" cy="241.00" r="16.0" fill="none" stroke="#1e1e1e" stroke-width="1.0"/>
<text x="646.60" y="244.50" font-size="9.2" text-anchor="middle" textLength="14.9" lengthAdjust="spacingAndGlyphs">n=47</text>
<rect x="513.80" y="291.20" width="13.00" height="13.00" fill="#0c0c0c" stroke="#555" stroke-width="0.8"/>
<text x="529.20" y="300.60" font-size="8.5" textLength="45.08" lengthAdjust="spacingAndGlyphs">transition (ts)</text>
<rect x="513.80" y="308.80" width="13.00" height="13.00" fill="#a9a5a9" stroke="#555" stroke-width="0.8"/>
<text x="529.20" y="318.20" font-size="8.5" textLength="55.91" lengthAdjust="spacingAndGlyphs">transversion (tv)</text>
<rect x="513.80" y="326.20" width="13.00" height="13.00" fill="#d0115a" stroke="#555" stroke-width="0.8"/>
<text x="529.20" y="335.60" font-size="8.5" textLength="31.64" lengthAdjust="spacingAndGlyphs">ratio ts/tv</text>
<rect x="611.80" y="291.20" width="13.00" height="13.00" fill="#f9a33e" stroke="#555" stroke-width="0.8"/>
<text x="627.20" y="300.60" font-size="8.5" textLength="59.39" lengthAdjust="spacingAndGlyphs">non-synonymous</text>
<rect x="611.80" y="308.80" width="13.00" height="13.00" fill="#9d91d8" stroke="#555" stroke-width="0.8"/>
<text x="627.20" y="318.20" font-size="8.5" textLength="43.78" lengthAdjust="spacingAndGlyphs">synonymous</text>
<line x1="80.10" y1="421.00" x2="80.10" y2="515.80" stroke="#262626" stroke-width="1.2"/>
<line x1="72.70" y1="515.20" x2="229.50" y2="515.20" stroke="#262626" stroke-width="1.2"/>
<line x1="72.70" y1="515.20" x2="80.10" y2="515.20" stroke="#262626" stroke-width="1.1"/>
<line x1="72.70" y1="491.78" x2="80.10" y2="491.78" stroke="#262626" stroke-width="1.1"/>
<line x1="72.70" y1="468.35" x2="80.10" y2="468.35" stroke="#262626" stroke-width="1.1"/>
<line x1="72.70" y1="444.93" x2="80.10" y2="444.93" stroke="#262626" stroke-width="1.1"/>
<line x1="72.70" y1="421.50" x2="80.10" y2="421.50" stroke="#262626" stroke-width="1.1"/>
<rect x="84.60" y="443.70" width="9.90" height="71.50" fill="#7ea2d8" stroke="#3b3b3b" stroke-width="0.8"/>
<line x1="89.55" y1="515.20" x2="89.55" y2="522.60" stroke="#262626" stroke-width="1.1"/>
<rect x="99.13" y="464.50" width="9.90" height="50.70" fill="#7ea2d8" stroke="#3b3b3b" stroke-width="0.8"/>
<line x1="104.08" y1="515.20" x2="104.08" y2="522.60" stroke="#262626" stroke-width="1.1"/>
<rect x="113.66" y="492.50" width="9.90" height="22.70" fill="#7ea2d8" stroke="#3b3b3b" stroke-width="0.8"/>
<line x1="118.61" y1="515.20" x2="118.61" y2="522.60" stroke="#262626" stroke-width="1.1"/>
<rect x="128.19" y="497.40" width="9.90" height="17.80" fill="#7ea2d8" stroke="#3b3b3b" stroke-width="0.8"/>
<line x1="133.14" y1="515.20" x2="133.14" y2="522.60" stroke="#262626" stroke-width="1.1"/>
<rect x="142.72" y="503.20" width="9.90" height="12.00" fill="#7ea2d8" stroke="#3b3b3b" stroke-width="0.8"/>
<line x1="147.67" y1="515.20" x2="147.67" y2="522.60" stroke="#262626" stroke-width="1.1"/>
<rect x="157.25" y="504.40" width="9.90" height="10.80" fill="#7ea2d8" stroke="#3b3b3b" stroke-width="0.8"/>
<line x1="162.20" y1="515.20" x2="162.20" y2="522.60" stroke="#262626" stroke-width="1.1"/>
<rect x="171.78" y="505.60" width="9.90" height="9.60" fill="#7ea2d8" stroke="#3b3b3b" stroke-width="0.8"/>
<line x1="176.73" y1="515.20" x2="176.73" y2="522.60" stroke="#262626" stroke-width="1.1"/>
<rect x="186.31" y="506.50" width="9.90" height="8.70" fill="#7ea2d8" stroke="#3b3b3b" stroke-width="0.8"/>
<line x1="191.26" y1="515.20" x2="191.26" y2="522.60" stroke="#262626" stroke-width="1.1"/>
<rect x="200.84" y="507.40" width="9.90" height="7.80" fill="#7ea2d8" stroke="#3b3b3b" stroke-width="0.8"/>
<line x1="205.79" y1="515.20" x2="205.79" y2="522.60" stroke="#262626" stroke-width="1.1"/>
<rect x="215.37" y="508.40" width="9.90" height="6.80" fill="#7ea2d8" stroke="#3b3b3b" stroke-width="0.8"/>
<line x1="220.32" y1="515.20" x2="220.32" y2="522.60" stroke="#262626" stroke-width="1.1"/>
<line x1="282.00" y1="420.80" x2="282.00" y2="515.80" stroke="#262626" stroke-width="1.2"/>
<line x1="274.60" y1="515.20" x2="432.50" y2="515.20" stroke="#262626" stroke-width="1.2"/>
<line x1="274.60" y1="515.20" x2="282.00" y2="515.20" stroke="#262626" stroke-width="1.1"/>
<line x1="274.60" y1="491.73" x2="282.00" y2="491.73" stroke="#262626" stroke-width="1.1"/>
<line x1="274.60" y1="468.25" x2="282.00" y2="468.25" stroke="#262626" stroke-width="1.1"/>
<line x1="274.60" y1="444.78" x2="282.00" y2="444.78" stroke="#262626" stroke-width="1.1"/>
<line x1="274.60" y1="421.30" x2="282.00" y2="421.30" stroke="#262626" stroke-width="1.1"/>
<rect x="286.90" y="431.50" width="9.70" height="83.70" fill="#e1c5b0" stroke="#3b3b3b" stroke-width="0.8"/>
<line x1="291.75" y1="515.20" x2="291.75" y2="522.60" stroke="#262626" stroke-width="1.1"/>
<rect x="301.43" y="446.90" width="9.70" height="68.30" fill="#e1c5b0" stroke="#3b3b3b" stroke-width="0.8"/>
<line x1="306.28" y1="515.20" x2="306.28" y2="522.60" stroke="#262626" stroke-width="1.1"/>
<rect x="315.96" y="485.50" width="9.70" height="29.70" fill="#e1c5b0" stroke="#3b3b3b" stroke-width="0.8"/>
<line x1="320.81" y1="515.20" x2="320.81" y2="522.60" stroke="#262626" stroke-width="1.1"/>
<rect x="330.49" y="487.20" width="9.70" height="28.00" fill="#e1c5b0" stroke="#3b3b3b" stroke-width="0.8"/>
<line x1="335.34" y1="515.20" x2="335.34" y2="522.60" stroke="#262626" stroke-width="1.1"/>
<rect x="345.02" y="491.40" width="9.70" height="23.80" fill="#e1c5b0" stroke="#3b3b3b" stroke-width="0.8"/>
<line x1="349.87" y1="515.20" x2="349.87" y2="522.60" stroke="#262626" stroke-width="1.1"/>
<rect x="359.55" y="491.30" width="9.70" height="23.90" fill="#e1c5b0" stroke="#3b3b3b" stroke-width="0.8"/>
<line x1="364.40" y1="515.20" x2="364.40" y2="522.60" stroke="#262626" stroke-width="1.1"/>
<rect x="374.08" y="492.30" width="9.70" height="22.90" fill="#e1c5b0" stroke="#3b3b3b" stroke-width="0.8"/>
<line x1="378.93" y1="515.20" x2="378.93" y2="522.60" stroke="#262626" stroke-width="1.1"/>
<rect x="388.61" y="494.40" width="9.70" height="20.80" fill="#e1c5b0" stroke="#3b3b3b" stroke-width="0.8"/>
<line x1="393.46" y1="515.20" x2="393.46" y2="522.60" stroke="#262626" stroke-width="1.1"/>
<rect x="403.14" y="501.30" width="9.70" height="13.90" fill="#e1c5b0" stroke="#3b3b3b" stroke-width="0.8"/>
<line x1="407.99" y1="515.20" x2="407.99" y2="522.60" stroke="#262626" stroke-width="1.1"/>
<rect x="417.67" y="510.40" width="9.70" height="4.80" fill="#e1c5b0" stroke="#3b3b3b" stroke-width="0.8"/>
<line x1="422.52" y1="515.20" x2="422.52" y2="522.60" stroke="#262626" stroke-width="1.1"/>
<line x1="488.80" y1="421.60" x2="488.80" y2="516.60" stroke="#262626" stroke-width="1.2"/>
<line x1="481.40" y1="516.00" x2="639.60" y2="516.00" stroke="#262626" stroke-width="1.2"/>
<line x1="481.40" y1="516.00" x2="488.80" y2="516.00" stroke="#262626" stroke-width="1.1"/>
<line x1="481.40" y1="497.22" x2="488.80" y2="497.22" stroke="#262626" stroke-width="1.1"/>
<line x1="481.40" y1="478.44" x2="488.80" y2="478.44" stroke="#262626" stroke-width="1.1"/>
<line x1="481.40" y1="459.66" x2="488.80" y2="459.66" stroke="#262626" stroke-width="1.1"/>
<line x1="481.40" y1="440.88" x2="488.80" y2="440.88" stroke="#262626" stroke-width="1.1"/>
<line x1="481.40" y1="422.10" x2="488.80" y2="422.10" stroke="#262626" stroke-width="1.1"/>
<rect x="493.50" y="429.40" width="9.70" height="86.60" fill="#fec98a" stroke="#3b3b3b" stroke-width="0.8"/>
<line x1="498.35" y1="516.00" x2="498.35" y2="523.40" stroke="#262626" stroke-width="1.1"/>
<rect x="508.03" y="455.70" width="9.70" height="60.30" fill="#fec98a" stroke="#3b3b3b" stroke-width="0.8"/>
<line x1="512.88" y1="516.00" x2="512.88" y2="523.40" stroke="#262626" stroke-width="1.1"/>
<rect x="522.56" y="488.50" width="9.70" height="27.50" fill="#fec98a" stroke="#3b3b3b" stroke-width="0.8"/>
<line x1="527.41" y1="516.00" x2="527.41" y2="523.40" stroke="#262626" stroke-width="1.1"/>
<rect x="537.09" y="502.50" width="9.70" height="13.50" fill="#fec98a" stroke="#3b3b3b" stroke-width="0.8"/>
<line x1="541.94" y1="516.00" x2="541.94" y2="523.40" stroke="#262626" stroke-width="1.1"/>
<rect x="551.62" y="507.00" width="9.70" height="9.00" fill="#cd80da" stroke="#3b3b3b" stroke-width="0.8"/>
<line x1="556.47" y1="516.00" x2="556.47" y2="523.40" stroke="#262626" stroke-width="1.1"/>
<rect x="566.15" y="507.70" width="9.70" height="8.30" fill="#fec98a" stroke="#3b3b3b" stroke-width="0.8"/>
<line x1="571.00" y1="516.00" x2="571.00" y2="523.40" stroke="#262626" stroke-width="1.1"/>
<rect x="580.68" y="508.40" width="9.70" height="7.60" fill="#fec98a" stroke="#3b3b3b" stroke-width="0.8"/>
<line x1="585.53" y1="516.00" x2="585.53" y2="523.40" stroke="#262626" stroke-width="1.1"/>
<rect x="595.21" y="510.40" width="9.70" height="5.60" fill="#a8a4a8" stroke="#3b3b3b" stroke-width="0.8"/>
<line x1="600.06" y1="516.00" x2="600.06" y2="523.40" stroke="#262626" stroke-width="1.1"/>
<rect x="609.74" y="510.90" width="9.70" height="5.10" fill="#a8a4a8" stroke="#3b3b3b" stroke-width="0.8"/>
<line x1="614.59" y1="516.00" x2="614.59" y2="523.40" stroke="#262626" stroke-width="1.1"/>
<rect x="624.27" y="511.20" width="9.70" height="4.80" fill="#fec98a" stroke="#3b3b3b" stroke-width="0.8"/>
<line x1="629.12" y1="516.00" x2="629.12" y2="523.40" stroke="#262626" stroke-width="1.1"/>
<text x="70.00" y="518.80" font-size="10" text-anchor="end">0</text>
<text x="71.20" y="495.38" font-size="10.3" text-anchor="end">2×10<tspan font-size="7" dx="1.3" dy="-4.3">-3</tspan></text>
<text x="71.20" y="471.95" font-size="10.3" text-anchor="end">4×10<tspan font-size="7" dx="1.3" dy="-4.3">-3</tspan></text>
<text x="71.20" y="448.53" font-size="10.3" text-anchor="end">6×10<tspan font-size="7" dx="1.3" dy="-4.3">-3</tspan></text>
<text x="71.20" y="425.10" font-size="10.3" text-anchor="end">8×10<tspan font-size="7" dx="1.3" dy="-4.3">-3</tspan></text>
<text x="272.40" y="518.80" font-size="10" text-anchor="end">0</text>
<text x="273.40" y="495.33" font-size="10.3" text-anchor="end">1×10<tspan font-size="7" dx="1.3" dy="-4.3">-3</tspan></text>
<text x="273.40" y="471.85" font-size="10.3" text-anchor="end">2×10<tspan font-size="7" dx="1.3" dy="-4.3">-3</tspan></text>
<text x="273.40" y="448.38" font-size="10.3" text-anchor="end">3×10<tspan font-size="7" dx="1.3" dy="-4.3">-3</tspan></text>
<text x="273.40" y="424.90" font-size="10.3" text-anchor="end">4×10<tspan font-size="7" dx="1.3" dy="-4.3">-3</tspan></text>
<text x="479.00" y="519.60" font-size="10" text-anchor="end">0</text>
<text x="480.40" y="500.82" font-size="10.3" text-anchor="end">2×10<tspan font-size="7" dx="1.3" dy="-4.3">-5</tspan></text>
<text x="480.40" y="482.04" font-size="10.3" text-anchor="end">4×10<tspan font-size="7" dx="1.3" dy="-4.3">-5</tspan></text>
<text x="480.40" y="463.26" font-size="10.3" text-anchor="end">6×10<tspan font-size="7" dx="1.3" dy="-4.3">-5</tspan></text>
<text x="480.40" y="444.48" font-size="10.3" text-anchor="end">8×10<tspan font-size="7" dx="1.3" dy="-4.3">-5</tspan></text>
<text x="480.40" y="425.70" font-size="10.3" text-anchor="end">1×10<tspan font-size="7" dx="1.3" dy="-4.3">-4</tspan></text>
<text x="78.50" y="403.00" font-size="10.2" textLength="38.0" lengthAdjust="spacingAndGlyphs">S:K356T</text>
<text x="280.80" y="403.10" font-size="10.2" textLength="35.4" lengthAdjust="spacingAndGlyphs">S:L368I</text>
<text x="487.90" y="403.10" font-size="10.2" textLength="35.9" lengthAdjust="spacingAndGlyphs">S:T385I</text>
<text x="124.40" y="423.70" font-size="8.0" font-weight="bold" textLength="34.71" lengthAdjust="spacingAndGlyphs">data from:</text>
<text x="194.00" y="423.70" font-size="8.0" textLength="27.63" lengthAdjust="spacingAndGlyphs">13.02.23</text>
<text x="124.40" y="432.70" font-size="8.0" font-weight="bold" textLength="29.58" lengthAdjust="spacingAndGlyphs">location:</text>
<text x="194.00" y="432.70" font-size="8.0" textLength="31.57" lengthAdjust="spacingAndGlyphs">worldwide</text>
<text x="124.40" y="441.70" font-size="8.0" font-weight="bold" textLength="46.94" lengthAdjust="spacingAndGlyphs">first detected:</text>
<text x="194.00" y="441.70" font-size="8.0" textLength="36.31" lengthAdjust="spacingAndGlyphs">2020-04-17</text>
<text x="124.40" y="451.40" font-size="8.0" font-weight="bold" textLength="45.76" lengthAdjust="spacingAndGlyphs">last detected:</text>
<text x="194.00" y="451.40" font-size="8.0" textLength="36.31" lengthAdjust="spacingAndGlyphs">2023-02-02</text>
<text x="124.40" y="460.50" font-size="8.0" font-weight="bold" textLength="42.59" lengthAdjust="spacingAndGlyphs">total counts:</text>
<text x="194.00" y="460.50" font-size="8.0" textLength="17.37" lengthAdjust="spacingAndGlyphs">44.5k</text>
<text x="124.40" y="471.30" font-size="8.0" font-weight="bold" textLength="62.34" lengthAdjust="spacingAndGlyphs">global prevalence:</text>
<text x="194.00" y="471.30" font-size="8.0" textLength="28.10" lengthAdjust="spacingAndGlyphs">3.2 *10<tspan font-size="5.4" dy="-3.6"> -3</tspan></text>
<text x="326.40" y="423.70" font-size="8.0" font-weight="bold" textLength="34.71" lengthAdjust="spacingAndGlyphs">data from:</text>
<text x="396.00" y="423.70" font-size="8.0" textLength="27.63" lengthAdjust="spacingAndGlyphs">13.02.23</text>
<text x="326.40" y="432.70" font-size="8.0" font-weight="bold" textLength="29.58" lengthAdjust="spacingAndGlyphs">location:</text>
<text x="396.00" y="432.70" font-size="8.0" textLength="31.57" lengthAdjust="spacingAndGlyphs">worldwide</text>
<text x="326.40" y="441.70" font-size="8.0" font-weight="bold" textLength="46.94" lengthAdjust="spacingAndGlyphs">first detected:</text>
<text x="396.00" y="441.70" font-size="8.0" textLength="36.31" lengthAdjust="spacingAndGlyphs">2020-05-22</text>
<text x="326.40" y="451.40" font-size="8.0" font-weight="bold" textLength="45.76" lengthAdjust="spacingAndGlyphs">last detected:</text>
<text x="396.00" y="451.40" font-size="8.0" textLength="36.31" lengthAdjust="spacingAndGlyphs">2023-02-03</text>
<text x="326.40" y="460.50" font-size="8.0" font-weight="bold" textLength="42.59" lengthAdjust="spacingAndGlyphs">total counts:</text>
<text x="396.00" y="460.50" font-size="8.0" textLength="11.45" lengthAdjust="spacingAndGlyphs">58k</text>
<text x="326.40" y="471.30" font-size="8.0" font-weight="bold" textLength="62.34" lengthAdjust="spacingAndGlyphs">global prevalence:</text>
<text x="396.00" y="471.30" font-size="8.0" textLength="28.10" lengthAdjust="spacingAndGlyphs">4.2 *10<tspan font-size="5.4" dy="-3.6"> -3</tspan></text>
<text x="533.50" y="424.80" font-size="8.0" font-weight="bold" textLength="34.71" lengthAdjust="spacingAndGlyphs">data from:</text>
<text x="602.80" y="424.80" font-size="8.0" textLength="27.63" lengthAdjust="spacingAndGlyphs">13.02.23</text>
<text x="533.50" y="433.80" font-size="8.0" font-weight="bold" textLength="29.58" lengthAdjust="spacingAndGlyphs">location:</text>
<text x="602.80" y="433.80" font-size="8.0" textLength="31.57" lengthAdjust="spacingAndGlyphs">worldwide</text>
<text x="533.50" y="442.90" font-size="8.0" font-weight="bold" textLength="46.94" lengthAdjust="spacingAndGlyphs">first detected:</text>
<text x="602.80" y="442.90" font-size="8.0" textLength="35.79" lengthAdjust="spacingAndGlyphs">2020-04-11</text>
<text x="533.50" y="452.40" font-size="8.0" font-weight="bold" textLength="45.76" lengthAdjust="spacingAndGlyphs">last detected:</text>
<text x="602.80" y="452.40" font-size="8.0" textLength="36.31" lengthAdjust="spacingAndGlyphs">2023-01-31</text>
<text x="533.50" y="461.60" font-size="8.0" font-weight="bold" textLength="42.59" lengthAdjust="spacingAndGlyphs">total counts:</text>
<text x="602.80" y="461.60" font-size="8.0" textLength="13.42" lengthAdjust="spacingAndGlyphs">4.4k</text>
<text x="533.50" y="472.40" font-size="8.0" font-weight="bold" textLength="62.34" lengthAdjust="spacingAndGlyphs">global prevalence:</text>
<text x="602.80" y="472.40" font-size="8.0" textLength="28.10" lengthAdjust="spacingAndGlyphs">3.2 *10<tspan font-size="5.4" dy="-3.6"> -4</tspan></text>
<text x="31.90" y="469.80" font-size="10.2" text-anchor="middle" textLength="87.6" lengthAdjust="spacingAndGlyphs" transform="rotate(-90 31.90 469.80)">specific prevalence</text>
<line x1="77.80" y1="536.90" x2="77.80" y2="616.30" stroke="#262626" stroke-width="1.2"/>
<line x1="70.20" y1="615.70" x2="228.80" y2="615.70" stroke="#262626" stroke-width="1.2"/>
<line x1="70.20" y1="615.70" x2="77.80" y2="615.70" stroke="#262626" stroke-width="1.1"/>
<text x="68.00" y="619.30" font-size="10" text-anchor="end">0.0</text>
<line x1="70.20" y1="600.04" x2="77.80" y2="600.04" stroke="#262626" stroke-width="1.1"/>
<text x="68.00" y="603.64" font-size="10" text-anchor="end">0.2</text>
<line x1="70.20" y1="584.38" x2="77.80" y2="584.38" stroke="#262626" stroke-width="1.1"/>
<text x="68.00" y="587.98" font-size="10" text-anchor="end">0.4</text>
<line x1="70.20" y1="568.72" x2="77.80" y2="568.72" stroke="#262626" stroke-width="1.1"/>
<text x="68.00" y="572.32" font-size="10" text-anchor="end">0.6</text>
<line x1="70.20" y1="553.06" x2="77.80" y2="553.06" stroke="#262626" stroke-width="1.1"/>
<text x="68.00" y="556.66" font-size="10" text-anchor="end">0.8</text>
<line x1="70.20" y1="537.40" x2="77.80" y2="537.40" stroke="#262626" stroke-width="1.1"/>
<text x="68.00" y="541.00" font-size="10" text-anchor="end">1.0</text>
<rect x="82.50" y="539.36" width="9.90" height="76.34" fill="#7ea2d8" stroke="#3b3b3b" stroke-width="0.8"/>
<line x1="87.45" y1="615.70" x2="87.45" y2="623.30" stroke="#262626" stroke-width="1.1"/>
<text x="91.55" y="624.20" font-size="10.8" text-anchor="end" transform="rotate(-90 91.55 624.20)">BN.1.3</text>
<rect x="97.03" y="539.36" width="9.90" height="76.34" fill="#7ea2d8" stroke="#3b3b3b" stroke-width="0.8"/>
<line x1="101.98" y1="615.70" x2="101.98" y2="623.30" stroke="#262626" stroke-width="1.1"/>
<text x="106.08" y="624.20" font-size="10.8" text-anchor="end" transform="rotate(-90 106.08 624.20)">BN.1.3.1</text>
<rect x="111.56" y="540.53" width="9.90" height="75.17" fill="#7ea2d8" stroke="#3b3b3b" stroke-width="0.8"/>
<line x1="116.51" y1="615.70" x2="116.51" y2="623.30" stroke="#262626" stroke-width="1.1"/>
<text x="120.61" y="624.20" font-size="10.8" text-anchor="end" transform="rotate(-90 120.61 624.20)">BN.1.5</text>
<rect x="126.09" y="539.36" width="9.90" height="76.34" fill="#7ea2d8" stroke="#3b3b3b" stroke-width="0.8"/>
<line x1="131.04" y1="615.70" x2="131.04" y2="623.30" stroke="#262626" stroke-width="1.1"/>
<text x="135.14" y="624.20" font-size="10.8" text-anchor="end" transform="rotate(-90 135.14 624.20)">BN.1.2</text>
<rect x="140.62" y="540.14" width="9.90" height="75.56" fill="#7ea2d8" stroke="#3b3b3b" stroke-width="0.8"/>
<line x1="145.57" y1="615.70" x2="145.57" y2="623.30" stroke="#262626" stroke-width="1.1"/>
<text x="149.67" y="624.20" font-size="10.8" text-anchor="end" transform="rotate(-90 149.67 624.20)">BN.1</text>
<rect x="155.15" y="540.53" width="9.90" height="75.17" fill="#7ea2d8" stroke="#3b3b3b" stroke-width="0.8"/>
<line x1="160.10" y1="615.70" x2="160.10" y2="623.30" stroke="#262626" stroke-width="1.1"/>
<text x="164.20" y="624.20" font-size="10.8" text-anchor="end" transform="rotate(-90 164.20 624.20)">BN.3.1</text>
<rect x="169.68" y="539.75" width="9.90" height="75.95" fill="#7ea2d8" stroke="#3b3b3b" stroke-width="0.8"/>
<line x1="174.63" y1="615.70" x2="174.63" y2="623.30" stroke="#262626" stroke-width="1.1"/>
<text x="178.73" y="624.20" font-size="10.8" text-anchor="end" transform="rotate(-90 178.73 624.20)">BN.1.2.1</text>
<rect x="184.21" y="539.36" width="9.90" height="76.34" fill="#7ea2d8" stroke="#3b3b3b" stroke-width="0.8"/>
<line x1="189.16" y1="615.70" x2="189.16" y2="623.30" stroke="#262626" stroke-width="1.1"/>
<text x="193.26" y="624.20" font-size="10.8" text-anchor="end" transform="rotate(-90 193.26 624.20)">BN.1.9</text>
<rect x="198.74" y="539.36" width="9.90" height="76.34" fill="#7ea2d8" stroke="#3b3b3b" stroke-width="0.8"/>
<line x1="203.69" y1="615.70" x2="203.69" y2="623.30" stroke="#262626" stroke-width="1.1"/>
<text x="207.79" y="624.20" font-size="10.8" text-anchor="end" transform="rotate(-90 207.79 624.20)">BN.1.7</text>
<rect x="213.27" y="539.36" width="9.90" height="76.34" fill="#7ea2d8" stroke="#3b3b3b" stroke-width="0.8"/>
<line x1="218.22" y1="615.70" x2="218.22" y2="623.30" stroke="#262626" stroke-width="1.1"/>
<text x="222.32" y="624.20" font-size="10.8" text-anchor="end" transform="rotate(-90 222.32 624.20)">BN.1.4</text>
<line x1="281.80" y1="536.70" x2="281.80" y2="616.10" stroke="#262626" stroke-width="1.2"/>
<line x1="274.20" y1="615.50" x2="432.30" y2="615.50" stroke="#262626" stroke-width="1.2"/>
<line x1="274.20" y1="615.50" x2="281.80" y2="615.50" stroke="#262626" stroke-width="1.1"/>
<text x="272.00" y="619.10" font-size="10" text-anchor="end">0.0</text>
<line x1="274.20" y1="599.84" x2="281.80" y2="599.84" stroke="#262626" stroke-width="1.1"/>
<text x="272.00" y="603.44" font-size="10" text-anchor="end">0.2</text>
<line x1="274.20" y1="584.18" x2="281.80" y2="584.18" stroke="#262626" stroke-width="1.1"/>
<text x="272.00" y="587.78" font-size="10" text-anchor="end">0.4</text>
<line x1="274.20" y1="568.52" x2="281.80" y2="568.52" stroke="#262626" stroke-width="1.1"/>
<text x="272.00" y="572.12" font-size="10" text-anchor="end">0.6</text>
<line x1="274.20" y1="552.86" x2="281.80" y2="552.86" stroke="#262626" stroke-width="1.1"/>
<text x="272.00" y="556.46" font-size="10" text-anchor="end">0.8</text>
<line x1="274.20" y1="537.20" x2="281.80" y2="537.20" stroke="#262626" stroke-width="1.1"/>
<text x="272.00" y="540.80" font-size="10" text-anchor="end">1.0</text>
<rect x="286.40" y="540.10" width="9.70" height="75.40" fill="#e1c5b0" stroke="#3b3b3b" stroke-width="0.8"/>
<line x1="291.25" y1="615.50" x2="291.25" y2="623.10" stroke="#262626" stroke-width="1.1"/>
<text x="295.35" y="624.00" font-size="10.8" text-anchor="end" transform="rotate(-90 295.35 624.00)">XBB.1.5</text>
<rect x="300.93" y="545.42" width="9.70" height="70.08" fill="#e1c5b0" stroke="#3b3b3b" stroke-width="0.8"/>
<line x1="305.78" y1="615.50" x2="305.78" y2="623.10" stroke="#262626" stroke-width="1.1"/>
<text x="309.88" y="624.00" font-size="10.8" text-anchor="end" transform="rotate(-90 309.88 624.00)">XBB.1</text>
<rect x="315.46" y="543.31" width="9.70" height="72.19" fill="#e1c5b0" stroke="#3b3b3b" stroke-width="0.8"/>
<line x1="320.31" y1="615.50" x2="320.31" y2="623.10" stroke="#262626" stroke-width="1.1"/>
<text x="324.41" y="624.00" font-size="10.8" text-anchor="end" transform="rotate(-90 324.41 624.00)">XBB.2</text>
<rect x="329.99" y="550.28" width="9.70" height="65.22" fill="#e1c5b0" stroke="#3b3b3b" stroke-width="0.8"/>
<line x1="334.84" y1="615.50" x2="334.84" y2="623.10" stroke="#262626" stroke-width="1.1"/>
<text x="338.94" y="624.00" font-size="10.8" text-anchor="end" transform="rotate(-90 338.94 624.00)">XBB</text>
<rect x="344.52" y="544.25" width="9.70" height="71.25" fill="#e1c5b0" stroke="#3b3b3b" stroke-width="0.8"/>
<line x1="349.37" y1="615.50" x2="349.37" y2="623.10" stroke="#262626" stroke-width="1.1"/>
<text x="353.47" y="624.00" font-size="10.8" text-anchor="end" transform="rotate(-90 353.47 624.00)">XBB.1.9</text>
<rect x="359.05" y="541.51" width="9.70" height="73.99" fill="#e1c5b0" stroke="#3b3b3b" stroke-width="0.8"/>
<line x1="363.90" y1="615.50" x2="363.90" y2="623.10" stroke="#262626" stroke-width="1.1"/>
<text x="368.00" y="624.00" font-size="10.8" text-anchor="end" transform="rotate(-90 368.00 624.00)">XBB.1.9.1</text>
<rect x="373.58" y="545.03" width="9.70" height="70.47" fill="#e1c5b0" stroke="#3b3b3b" stroke-width="0.8"/>
<line x1="378.43" y1="615.50" x2="378.43" y2="623.10" stroke="#262626" stroke-width="1.1"/>
<text x="382.53" y="624.00" font-size="10.8" text-anchor="end" transform="rotate(-90 382.53 624.00)">XBB.1.4.1</text>
<rect x="388.11" y="542.21" width="9.70" height="73.29" fill="#e1c5b0" stroke="#3b3b3b" stroke-width="0.8"/>
<line x1="392.96" y1="615.50" x2="392.96" y2="623.10" stroke="#262626" stroke-width="1.1"/>
<text x="397.06" y="624.00" font-size="10.8" text-anchor="end" transform="rotate(-90 397.06 624.00)">XBB.1.1</text>
<rect x="402.64" y="548.24" width="9.70" height="67.26" fill="#e1c5b0" stroke="#3b3b3b" stroke-width="0.8"/>
<line x1="407.49" y1="615.50" x2="407.49" y2="623.10" stroke="#262626" stroke-width="1.1"/>
<text x="411.59" y="624.00" font-size="10.8" text-anchor="end" transform="rotate(-90 411.59 624.00)">XBB.3</text>
<rect x="417.17" y="547.14" width="9.70" height="68.36" fill="#e1c5b0" stroke="#3b3b3b" stroke-width="0.8"/>
<line x1="422.02" y1="615.50" x2="422.02" y2="623.10" stroke="#262626" stroke-width="1.1"/>
<text x="426.12" y="624.00" font-size="10.8" text-anchor="end" transform="rotate(-90 426.12 624.00)">XBB.3.2</text>
<line x1="487.60" y1="536.10" x2="487.60" y2="615.80" stroke="#262626" stroke-width="1.2"/>
<line x1="480.00" y1="615.20" x2="638.40" y2="615.20" stroke="#262626" stroke-width="1.2"/>
<line x1="480.00" y1="615.20" x2="487.60" y2="615.20" stroke="#262626" stroke-width="1.1"/>
<text x="477.80" y="618.80" font-size="10" text-anchor="end">0.0</text>
<line x1="480.00" y1="599.48" x2="487.60" y2="599.48" stroke="#262626" stroke-width="1.1"/>
<text x="477.80" y="603.08" font-size="10" text-anchor="end">0.2</text>
<line x1="480.00" y1="583.76" x2="487.60" y2="583.76" stroke="#262626" stroke-width="1.1"/>
<text x="477.80" y="587.36" font-size="10" text-anchor="end">0.4</text>
<line x1="480.00" y1="568.04" x2="487.60" y2="568.04" stroke="#262626" stroke-width="1.1"/>
<text x="477.80" y="571.64" font-size="10" text-anchor="end">0.6</text>
<line x1="480.00" y1="552.32" x2="487.60" y2="552.32" stroke="#262626" stroke-width="1.1"/>
<text x="477.80" y="555.92" font-size="10" text-anchor="end">0.8</text>
<line x1="480.00" y1="536.60" x2="487.60" y2="536.60" stroke="#262626" stroke-width="1.1"/>
<text x="477.80" y="540.20" font-size="10" text-anchor="end">1.0</text>
<rect x="492.80" y="614.73" width="9.70" height="0.47" fill="#fec98a" stroke="#3b3b3b" stroke-width="0.8"/>
<line x1="497.65" y1="615.20" x2="497.65" y2="622.80" stroke="#262626" stroke-width="1.1"/>
<text x="501.75" y="623.70" font-size="10.8" text-anchor="end" transform="rotate(-90 501.75 623.70)">AY.100</text>
<line x1="512.18" y1="615.20" x2="512.18" y2="622.80" stroke="#262626" stroke-width="1.1"/>
<text x="516.28" y="623.70" font-size="10.8" text-anchor="end" transform="rotate(-90 516.28 623.70)">AY.122</text>
<rect x="521.86" y="614.73" width="9.70" height="0.47" fill="#fec98a" stroke="#3b3b3b" stroke-width="0.8"/>
<line x1="526.71" y1="615.20" x2="526.71" y2="622.80" stroke="#262626" stroke-width="1.1"/>
<text x="530.81" y="623.70" font-size="10.8" text-anchor="end" transform="rotate(-90 530.81 623.70)">AY.127</text>
<line x1="541.24" y1="615.20" x2="541.24" y2="622.80" stroke="#262626" stroke-width="1.1"/>
<text x="545.34" y="623.70" font-size="10.8" text-anchor="end" transform="rotate(-90 545.34 623.70)">AY.43</text>
<line x1="555.77" y1="615.20" x2="555.77" y2="622.80" stroke="#262626" stroke-width="1.1"/>
<text x="559.87" y="623.70" font-size="10.8" text-anchor="end" transform="rotate(-90 559.87 623.70)">B.1.1.7</text>
<line x1="570.30" y1="615.20" x2="570.30" y2="622.80" stroke="#262626" stroke-width="1.1"/>
<text x="574.40" y="623.70" font-size="10.8" text-anchor="end" transform="rotate(-90 574.40 623.70)">AY.44</text>
<line x1="584.83" y1="615.20" x2="584.83" y2="622.80" stroke="#262626" stroke-width="1.1"/>
<text x="588.93" y="623.70" font-size="10.8" text-anchor="end" transform="rotate(-90 588.93 623.70)">B.1.617.2</text>
<rect x="594.51" y="604.98" width="9.70" height="10.22" fill="#a8a4a8" stroke="#3b3b3b" stroke-width="0.8"/>
<line x1="599.36" y1="615.20" x2="599.36" y2="622.80" stroke="#262626" stroke-width="1.1"/>
<text x="603.46" y="623.70" font-size="10.8" text-anchor="end" transform="rotate(-90 603.46 623.70)">B.1.1.141</text>
<rect x="609.04" y="579.44" width="9.70" height="35.76" fill="#a8a4a8" stroke="#3b3b3b" stroke-width="0.8"/>
<line x1="613.89" y1="615.20" x2="613.89" y2="622.80" stroke="#262626" stroke-width="1.1"/>
<text x="617.99" y="623.70" font-size="10.8" text-anchor="end" transform="rotate(-90 617.99 623.70)">B.1.1.487</text>
<line x1="628.42" y1="615.20" x2="628.42" y2="622.80" stroke="#262626" stroke-width="1.1"/>
<text x="632.52" y="623.70" font-size="10.8" text-anchor="end" transform="rotate(-90 632.52 623.70)">AY.103</text>
<text x="32.40" y="577.00" font-size="10.2" text-anchor="middle" transform="rotate(-90 32.40 577.00)">proportion of</text>
<text x="44.40" y="575.00" font-size="10.2" text-anchor="middle" textLength="85.8" lengthAdjust="spacingAndGlyphs" transform="rotate(-90 44.40 575.00)">mutation in lineage</text>
<text x="154.30" y="680.80" font-size="10.2" text-anchor="middle" textLength="74.5" lengthAdjust="spacingAndGlyphs">pangolin lineage</text>
<text x="358.30" y="687.20" font-size="10.2" text-anchor="middle" textLength="74.5" lengthAdjust="spacingAndGlyphs">pangolin lineage</text>
<text x="564.30" y="683.80" font-size="10.2" text-anchor="middle" textLength="74.5" lengthAdjust="spacingAndGlyphs">pangolin lineage</text>
<line x1="457.30" y1="538.80" x2="457.30" y2="541.20" stroke="#555" stroke-width="0.8"/>
<rect x="39.40" y="713.8" width="99.10" height="16.6" rx="2" ry="2" fill="#fff" stroke="#2a2a2a" stroke-width="1"/>
<text x="88.95" y="725.90" font-size="10.8" text-anchor="middle" textLength="92.2" lengthAdjust="spacingAndGlyphs">S:K356T/L368I/T385I</text>
<rect x="141.90" y="713.8" width="74.80" height="16.6" rx="2" ry="2" fill="#fff" stroke="#2a2a2a" stroke-width="1"/>
<text x="179.30" y="725.90" font-size="10.8" text-anchor="middle" textLength="64.71" lengthAdjust="spacingAndGlyphs">S:K356T/L368I</text>
<rect x="233.70" y="713.8" width="74.50" height="16.6" rx="2" ry="2" fill="#fff" stroke="#2a2a2a" stroke-width="1"/>
<text x="270.95" y="725.90" font-size="10.8" text-anchor="middle" textLength="60.93" lengthAdjust="spacingAndGlyphs">S:L368I/T385I</text>
<rect x="305.60" y="713.8" width="75.10" height="16.6" rx="2" ry="2" fill="#fff" stroke="#2a2a2a" stroke-width="1"/>
<text x="343.15" y="725.90" font-size="10.8" text-anchor="middle" textLength="65.24" lengthAdjust="spacingAndGlyphs">S:K356T/T385I</text>
<line x1="88.80" y1="730.40" x2="88.80" y2="736.20" stroke="#2a2a2a" stroke-width="1"/>
<line x1="81.50" y1="736.20" x2="96.80" y2="736.20" stroke="#2a2a2a" stroke-width="1"/>
<line x1="81.50" y1="735.70" x2="81.50" y2="739.00" stroke="#2a2a2a" stroke-width="0.9"/>
<line x1="96.80" y1="735.70" x2="96.80" y2="739.00" stroke="#2a2a2a" stroke-width="0.9"/>
<line x1="173.40" y1="730.40" x2="173.40" y2="736.20" stroke="#2a2a2a" stroke-width="1"/>
<line x1="96.80" y1="736.20" x2="238.20" y2="736.20" stroke="#2a2a2a" stroke-width="1"/>
<line x1="96.80" y1="735.70" x2="96.80" y2="739.00" stroke="#2a2a2a" stroke-width="0.9"/>
<line x1="238.20" y1="735.70" x2="238.20" y2="739.00" stroke="#2a2a2a" stroke-width="0.9"/>
<line x1="273.50" y1="730.40" x2="273.50" y2="736.20" stroke="#2a2a2a" stroke-width="1"/>
<line x1="237.90" y1="736.20" x2="308.50" y2="736.20" stroke="#2a2a2a" stroke-width="1"/>
<line x1="237.90" y1="735.70" x2="237.90" y2="739.00" stroke="#2a2a2a" stroke-width="0.9"/>
<line x1="308.50" y1="735.70" x2="308.50" y2="739.00" stroke="#2a2a2a" stroke-width="0.9"/>
<line x1="328.50" y1="730.40" x2="328.50" y2="736.20" stroke="#2a2a2a" stroke-width="1"/>
<line x1="312.50" y1="736.20" x2="347.50" y2="736.20" stroke="#2a2a2a" stroke-width="1"/>
<line x1="312.50" y1="735.70" x2="312.50" y2="739.00" stroke="#2a2a2a" stroke-width="0.9"/>
<line x1="347.50" y1="735.70" x2="347.50" y2="739.00" stroke="#2a2a2a" stroke-width="0.9"/>
<line x1="78.50" y1="747.00" x2="78.50" y2="842.20" stroke="#262626" stroke-width="1.2"/>
<line x1="78.00" y1="841.60" x2="341.40" y2="841.60" stroke="#262626" stroke-width="1.2"/>
<line x1="71.50" y1="841.60" x2="78.50" y2="841.60" stroke="#262626" stroke-width="1.1"/>
<text x="70.20" y="845.20" font-size="10" text-anchor="end">0</text>
<line x1="71.50" y1="810.23" x2="78.50" y2="810.23" stroke="#262626" stroke-width="1.1"/>
<text x="70.20" y="813.83" font-size="10" text-anchor="end">10</text>
<line x1="71.50" y1="778.87" x2="78.50" y2="778.87" stroke="#262626" stroke-width="1.1"/>
<text x="70.20" y="782.47" font-size="10" text-anchor="end">20</text>
<line x1="71.50" y1="747.50" x2="78.50" y2="747.50" stroke="#262626" stroke-width="1.1"/>
<text x="70.20" y="751.10" font-size="10" text-anchor="end">30</text>
<rect x="84.35" y="775.73" width="9.30" height="65.87" fill="#ffffff" stroke="#3b3b3b" stroke-width="0.8"/>
<text x="89.00" y="773.13" font-size="8.0" text-anchor="middle" textLength="8.12" lengthAdjust="spacingAndGlyphs">21</text>
<line x1="89.00" y1="841.60" x2="89.00" y2="848.60" stroke="#262626" stroke-width="1.1"/>
<text x="92.70" y="851.40" font-size="10.2" text-anchor="end" transform="rotate(-90 92.70 851.40)"><tspan font-size="9.5" dy="-3.3">*</tspan><tspan dy="3.3">BA.2</tspan></text>
<rect x="98.45" y="766.32" width="9.30" height="75.28" fill="#ffffff" stroke="#3b3b3b" stroke-width="0.8"/>
<text x="103.10" y="763.72" font-size="8.0" text-anchor="middle" textLength="8.12" lengthAdjust="spacingAndGlyphs">24</text>
<line x1="103.10" y1="841.60" x2="103.10" y2="848.60" stroke="#262626" stroke-width="1.1"/>
<text x="106.80" y="851.40" font-size="10.2" text-anchor="end" transform="rotate(-90 106.80 851.40)"><tspan font-size="9.5" dy="-3.3">*</tspan><tspan dy="3.3">BA.2</tspan></text>
<rect x="112.55" y="838.46" width="9.30" height="3.14" fill="#ffffff" stroke="#3b3b3b" stroke-width="0.8"/>
<text x="117.20" y="835.86" font-size="8.0" text-anchor="middle" textLength="4.06" lengthAdjust="spacingAndGlyphs">1</text>
<line x1="117.20" y1="841.60" x2="117.20" y2="848.60" stroke="#262626" stroke-width="1.1"/>
<text x="120.90" y="851.40" font-size="10.2" text-anchor="end" transform="rotate(-90 120.90 851.40)">BA.1.1</text>
<rect x="126.65" y="838.46" width="9.30" height="3.14" fill="#ffffff" stroke="#3b3b3b" stroke-width="0.8"/>
<text x="131.30" y="835.86" font-size="8.0" text-anchor="middle" textLength="4.06" lengthAdjust="spacingAndGlyphs">1</text>
<line x1="131.30" y1="841.60" x2="131.30" y2="848.60" stroke="#262626" stroke-width="1.1"/>
<text x="135.00" y="851.40" font-size="10.2" text-anchor="end" transform="rotate(-90 135.00 851.40)">BA.1</text>
<rect x="140.75" y="816.51" width="9.30" height="25.09" fill="#d9d6d9" stroke="#3b3b3b" stroke-width="0.8"/>
<text x="145.40" y="813.91" font-size="8.0" text-anchor="middle" textLength="4.06" lengthAdjust="spacingAndGlyphs">8</text>
<line x1="145.40" y1="841.60" x2="145.40" y2="848.60" stroke="#262626" stroke-width="1.1"/>
<text x="149.10" y="851.40" font-size="10.2" text-anchor="end" transform="rotate(-90 149.10 851.40)">BA.1.17</text>
<rect x="154.85" y="832.19" width="9.30" height="9.41" fill="#e1c5b0" stroke="#3b3b3b" stroke-width="0.8"/>
<text x="159.50" y="829.59" font-size="8.0" text-anchor="middle" textLength="4.06" lengthAdjust="spacingAndGlyphs">3</text>
<line x1="159.50" y1="841.60" x2="159.50" y2="848.60" stroke="#262626" stroke-width="1.1"/>
<text x="163.20" y="851.40" font-size="10.2" text-anchor="end" transform="rotate(-90 163.20 851.40)">XBB.1</text>
<rect x="168.95" y="838.46" width="9.30" height="3.14" fill="#7ea2d8" stroke="#3b3b3b" stroke-width="0.8"/>
<text x="173.60" y="835.86" font-size="8.0" text-anchor="middle" textLength="4.06" lengthAdjust="spacingAndGlyphs">1</text>
<line x1="173.60" y1="841.60" x2="173.60" y2="848.60" stroke="#262626" stroke-width="1.1"/>
<text x="177.30" y="851.40" font-size="10.2" text-anchor="end" transform="rotate(-90 177.30 851.40)">BN.1.3</text>
<rect x="183.05" y="835.33" width="9.30" height="6.27" fill="#e1c5b0" stroke="#3b3b3b" stroke-width="0.8"/>
<text x="187.70" y="832.73" font-size="8.0" text-anchor="middle" textLength="4.06" lengthAdjust="spacingAndGlyphs">2</text>
<line x1="187.70" y1="841.60" x2="187.70" y2="848.60" stroke="#262626" stroke-width="1.1"/>
<text x="191.40" y="851.40" font-size="10.2" text-anchor="end" transform="rotate(-90 191.40 851.40)">XBB.2</text>
<rect x="197.15" y="838.46" width="9.30" height="3.14" fill="#e1c5b0" stroke="#3b3b3b" stroke-width="0.8"/>
<text x="201.80" y="835.86" font-size="8.0" text-anchor="middle" textLength="4.06" lengthAdjust="spacingAndGlyphs">1</text>
<line x1="201.80" y1="841.60" x2="201.80" y2="848.60" stroke="#262626" stroke-width="1.1"/>
<text x="205.50" y="851.40" font-size="10.2" text-anchor="end" transform="rotate(-90 205.50 851.40)">XBB</text>
<rect x="211.25" y="838.46" width="9.30" height="3.14" fill="#e1c5b0" stroke="#3b3b3b" stroke-width="0.8"/>
<text x="215.90" y="835.86" font-size="8.0" text-anchor="middle" textLength="4.06" lengthAdjust="spacingAndGlyphs">1</text>
<line x1="215.90" y1="841.60" x2="215.90" y2="848.60" stroke="#262626" stroke-width="1.1"/>
<text x="219.60" y="851.40" font-size="10.2" text-anchor="end" transform="rotate(-90 219.60 851.40)">XBB.1.1</text>
<rect x="225.35" y="838.46" width="9.30" height="3.14" fill="#e1c5b0" stroke="#3b3b3b" stroke-width="0.8"/>
<text x="230.00" y="835.86" font-size="8.0" text-anchor="middle" textLength="4.06" lengthAdjust="spacingAndGlyphs">1</text>
<line x1="230.00" y1="841.60" x2="230.00" y2="848.60" stroke="#262626" stroke-width="1.1"/>
<text x="233.70" y="851.40" font-size="10.2" text-anchor="end" transform="rotate(-90 233.70 851.40)">XBB.1.9</text>
<rect x="239.45" y="775.73" width="9.30" height="65.87" fill="#ffffff" stroke="#3b3b3b" stroke-width="0.8"/>
<text x="244.10" y="773.13" font-size="8.0" text-anchor="middle" textLength="8.12" lengthAdjust="spacingAndGlyphs">21</text>
<line x1="244.10" y1="841.60" x2="244.10" y2="848.60" stroke="#262626" stroke-width="1.1"/>
<text x="247.80" y="851.40" font-size="10.2" text-anchor="end" transform="rotate(-90 247.80 851.40)"><tspan font-size="9.5" dy="-3.3">*</tspan><tspan dy="3.3">BA.2</tspan></text>
<rect x="253.55" y="838.46" width="9.30" height="3.14" fill="#e1c5b0" stroke="#3b3b3b" stroke-width="0.8"/>
<text x="258.20" y="835.86" font-size="8.0" text-anchor="middle" textLength="4.06" lengthAdjust="spacingAndGlyphs">1</text>
<line x1="258.20" y1="841.60" x2="258.20" y2="848.60" stroke="#262626" stroke-width="1.1"/>
<text x="261.90" y="851.40" font-size="10.2" text-anchor="end" transform="rotate(-90 261.90 851.40)">XBB.1.5</text>
<rect x="267.65" y="819.64" width="9.30" height="21.96" fill="#e1c5b0" stroke="#3b3b3b" stroke-width="0.8"/>
<text x="272.30" y="817.04" font-size="8.0" text-anchor="middle" textLength="4.06" lengthAdjust="spacingAndGlyphs">7</text>
<line x1="272.30" y1="841.60" x2="272.30" y2="848.60" stroke="#262626" stroke-width="1.1"/>
<text x="276.00" y="851.40" font-size="10.2" text-anchor="end" transform="rotate(-90 276.00 851.40)">XBB.1</text>
<rect x="281.75" y="835.33" width="9.30" height="6.27" fill="#e1c5b0" stroke="#3b3b3b" stroke-width="0.8"/>
<text x="286.40" y="832.73" font-size="8.0" text-anchor="middle" textLength="4.06" lengthAdjust="spacingAndGlyphs">2</text>
<line x1="286.40" y1="841.60" x2="286.40" y2="848.60" stroke="#262626" stroke-width="1.1"/>
<text x="290.10" y="851.40" font-size="10.2" text-anchor="end" transform="rotate(-90 290.10 851.40)">XBB.2</text>
<rect x="295.85" y="838.46" width="9.30" height="3.14" fill="#e1c5b0" stroke="#3b3b3b" stroke-width="0.8"/>
<text x="300.50" y="835.86" font-size="8.0" text-anchor="middle" textLength="4.06" lengthAdjust="spacingAndGlyphs">1</text>
<line x1="300.50" y1="841.60" x2="300.50" y2="848.60" stroke="#262626" stroke-width="1.1"/>
<text x="304.20" y="851.40" font-size="10.2" text-anchor="end" transform="rotate(-90 304.20 851.40)">XBB.1.9</text>
<rect x="309.95" y="772.59" width="9.30" height="69.01" fill="#ffffff" stroke="#3b3b3b" stroke-width="0.8"/>
<text x="314.60" y="769.99" font-size="8.0" text-anchor="middle" textLength="8.12" lengthAdjust="spacingAndGlyphs">22</text>
<line x1="314.60" y1="841.60" x2="314.60" y2="848.60" stroke="#262626" stroke-width="1.1"/>
<text x="318.30" y="851.40" font-size="10.2" text-anchor="end" transform="rotate(-90 318.30 851.40)"><tspan font-size="9.5" dy="-3.3">*</tspan><tspan dy="3.3">BA.2</tspan></text>
<rect x="324.05" y="838.46" width="9.30" height="3.14" fill="#e8830f" stroke="#3b3b3b" stroke-width="0.8"/>
<text x="328.70" y="835.86" font-size="8.0" text-anchor="middle" textLength="4.06" lengthAdjust="spacingAndGlyphs">1</text>
<line x1="328.70" y1="841.60" x2="328.70" y2="848.60" stroke="#262626" stroke-width="1.1"/>
<text x="332.40" y="851.40" font-size="10.2" text-anchor="end" transform="rotate(-90 332.40 851.40)">AY.44</text>
<text x="51.00" y="796.00" font-size="10.3" text-anchor="middle" textLength="70" lengthAdjust="spacingAndGlyphs" transform="rotate(-90 51.00 796.00)">n of sequences</text>
<text x="210.20" y="904.20" font-size="10.2" text-anchor="middle" textLength="74.5" lengthAdjust="spacingAndGlyphs">pangolin lineage</text>
<rect x="393.70" y="720.20" width="103.30" height="180.50" fill="#fff" stroke="#4a4a4a" stroke-width="1"/>
<text x="403.50" y="736.50" font-size="10.3" textLength="86.5" lengthAdjust="spacingAndGlyphs">lineage color code:</text>
<rect x="403.50" y="748.70" width="15.20" height="14.70" fill="#ffffff" stroke="#444" stroke-width="1"/>
<text x="423.50" y="759.70" font-size="10.3">BA-like</text>
<rect x="403.50" y="773.50" width="15.20" height="14.70" fill="#7ea2d8" stroke="#444" stroke-width="1"/>
<text x="423.50" y="784.50" font-size="10.3">BN-like</text>
<rect x="403.50" y="798.00" width="15.20" height="14.70" fill="#e1c5b0" stroke="#444" stroke-width="1"/>
<text x="423.50" y="809.00" font-size="10.3">XBB-like</text>
<rect x="403.50" y="822.60" width="15.20" height="14.70" fill="#fec98a" stroke="#444" stroke-width="1"/>
<text x="423.50" y="833.60" font-size="10.3">Delta-like</text>
<rect x="403.50" y="846.50" width="15.20" height="14.70" fill="#cd80da" stroke="#444" stroke-width="1"/>
<text x="423.50" y="857.50" font-size="10.3">Beta</text>
<rect x="403.50" y="872.00" width="15.20" height="14.70" fill="#a8a4a8" stroke="#444" stroke-width="1"/>
<text x="423.50" y="883.00" font-size="10.3">Other B.1</text>
<text x="521.20" y="724.20" font-size="8.3" textLength="128.2" lengthAdjust="spacingAndGlyphs">*Including the 21 sequences from the</text>
<text x="521.20" y="739.80" font-size="8.3" textLength="76.4" lengthAdjust="spacingAndGlyphs">lung transplant patient</text>
<text x="580.10" y="756.60" font-size="8.3" textLength="67" lengthAdjust="spacingAndGlyphs">data from: 13.02.23</text>
</svg>
</body></html>
